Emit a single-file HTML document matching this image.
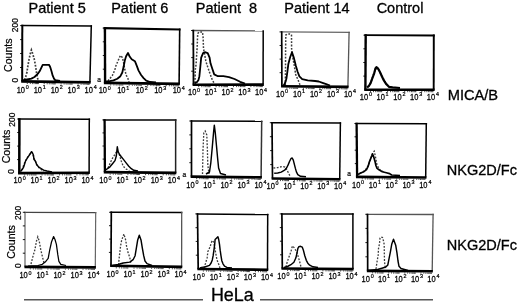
<!DOCTYPE html>
<html><head><meta charset="utf-8"><style>
html,body{margin:0;padding:0;background:#fff;width:520px;height:303px;overflow:hidden}
svg{display:block}
text{font-family:"Liberation Sans",Arial,sans-serif}
.b{stroke:#000;stroke-width:0.3px;paint-order:stroke}
.t{stroke:#000;stroke-width:0.22px}
.t2{fill:#000;stroke:#000;stroke-width:0.44px}
</style></head><body>
<svg width="520" height="303" viewBox="0 0 520 303">
<rect width="520" height="303" fill="#fff"/>
<text x="57.2" y="13.3" font-size="14.5" text-anchor="middle" fill="#000" class="b">Patient 5</text>
<text x="139.8" y="13.3" font-size="14.5" text-anchor="middle" fill="#000" class="b">Patient 6</text>
<text x="226.5" y="13.3" font-size="14.5" text-anchor="middle" fill="#000" class="b">Patient  8</text>
<text x="317.0" y="13.3" font-size="14.5" text-anchor="middle" fill="#000" class="b">Patient 14</text>
<text x="400.0" y="13.3" font-size="14.5" text-anchor="middle" fill="#000" class="b">Control</text>
<text x="447.7" y="99.9" font-size="14.65" fill="#000" class="b">MICA/B</text>
<text x="446.8" y="174.6" font-size="14.5" fill="#000" class="b">NKG2D/Fc</text>
<text x="446.8" y="249.5" font-size="14.5" fill="#000" class="b">NKG2D/Fc</text>
<text x="210.9" y="300.8" font-size="17.9" fill="#000" class="b">HeLa</text>
<line x1="24" y1="299.8" x2="203" y2="299.8" stroke="#555" stroke-width="1.6"/>
<line x1="260" y1="299.8" x2="433" y2="299.8" stroke="#555" stroke-width="1.6"/>
<polyline points="24.5,80.0 25.8,76.4 27.0,72.0 27.6,67.6 28.9,60.1 30.2,54.0 31.4,50.0 32.8,54.0 34.5,60.1 35.8,67.6 36.4,72.0 37.1,75.7 38.0,80.0" fill="none" stroke="#3a3a3a" stroke-width="1.7" stroke-dasharray="1.8 1.5"/>
<polyline points="22.6,80.5 27.0,79.5 31.4,78.6 34.5,77.0 37.7,73.9 39.6,71.3 40.8,68.8 42.7,64.8 49.0,64.8 50.2,67.0 51.5,71.3 52.7,75.7 54.0,78.6 55.2,80.1 60.0,81.0" fill="none" stroke="#000" stroke-width="1.8" stroke-linejoin="round"/>
<line x1="21.30" y1="25.6" x2="92.05" y2="26.1" stroke="#000" stroke-width="1.5"/>
<line x1="91.3" y1="25.35" x2="89.9" y2="82.4" stroke="#000" stroke-width="1.5"/>
<line x1="22.3" y1="24.85" x2="22.2" y2="81.4" stroke="#000" stroke-width="2.0"/>
<line x1="21.20" y1="81.4" x2="90.65" y2="82.4" stroke="#000" stroke-width="2.6"/>
<line x1="20.0" y1="67.5" x2="22.2" y2="67.5" stroke="#000" stroke-width="0.9"/>
<line x1="20.1" y1="53.5" x2="22.2" y2="53.5" stroke="#000" stroke-width="0.9"/>
<line x1="20.1" y1="39.6" x2="22.3" y2="39.6" stroke="#000" stroke-width="0.9"/>
<line x1="20.1" y1="25.6" x2="22.3" y2="25.6" stroke="#000" stroke-width="0.9"/>
<line x1="27.3" y1="82.8" x2="27.3" y2="84.0" stroke="#222" stroke-width="0.8"/>
<line x1="30.3" y1="82.8" x2="30.3" y2="84.0" stroke="#222" stroke-width="0.8"/>
<line x1="32.4" y1="82.9" x2="32.4" y2="84.1" stroke="#222" stroke-width="0.8"/>
<line x1="34.0" y1="82.9" x2="34.0" y2="84.1" stroke="#222" stroke-width="0.8"/>
<line x1="35.4" y1="82.9" x2="35.4" y2="84.1" stroke="#222" stroke-width="0.8"/>
<line x1="36.5" y1="82.9" x2="36.5" y2="84.1" stroke="#222" stroke-width="0.8"/>
<line x1="37.5" y1="82.9" x2="37.5" y2="84.1" stroke="#222" stroke-width="0.8"/>
<line x1="38.4" y1="82.9" x2="38.4" y2="84.1" stroke="#222" stroke-width="0.8"/>
<line x1="44.2" y1="83.0" x2="44.2" y2="84.2" stroke="#222" stroke-width="0.8"/>
<line x1="47.2" y1="83.1" x2="47.2" y2="84.3" stroke="#222" stroke-width="0.8"/>
<line x1="49.3" y1="83.1" x2="49.3" y2="84.3" stroke="#222" stroke-width="0.8"/>
<line x1="51.0" y1="83.1" x2="51.0" y2="84.3" stroke="#222" stroke-width="0.8"/>
<line x1="52.3" y1="83.1" x2="52.3" y2="84.3" stroke="#222" stroke-width="0.8"/>
<line x1="53.4" y1="83.2" x2="53.4" y2="84.4" stroke="#222" stroke-width="0.8"/>
<line x1="54.4" y1="83.2" x2="54.4" y2="84.4" stroke="#222" stroke-width="0.8"/>
<line x1="55.3" y1="83.2" x2="55.3" y2="84.4" stroke="#222" stroke-width="0.8"/>
<line x1="61.1" y1="83.3" x2="61.1" y2="84.5" stroke="#222" stroke-width="0.8"/>
<line x1="64.1" y1="83.3" x2="64.1" y2="84.5" stroke="#222" stroke-width="0.8"/>
<line x1="66.2" y1="83.4" x2="66.2" y2="84.6" stroke="#222" stroke-width="0.8"/>
<line x1="67.9" y1="83.4" x2="67.9" y2="84.6" stroke="#222" stroke-width="0.8"/>
<line x1="69.2" y1="83.4" x2="69.2" y2="84.6" stroke="#222" stroke-width="0.8"/>
<line x1="70.4" y1="83.4" x2="70.4" y2="84.6" stroke="#222" stroke-width="0.8"/>
<line x1="71.3" y1="83.4" x2="71.3" y2="84.6" stroke="#222" stroke-width="0.8"/>
<line x1="72.2" y1="83.4" x2="72.2" y2="84.6" stroke="#222" stroke-width="0.8"/>
<line x1="78.1" y1="83.5" x2="78.1" y2="84.7" stroke="#222" stroke-width="0.8"/>
<line x1="81.1" y1="83.6" x2="81.1" y2="84.8" stroke="#222" stroke-width="0.8"/>
<line x1="83.2" y1="83.6" x2="83.2" y2="84.8" stroke="#222" stroke-width="0.8"/>
<line x1="84.8" y1="83.6" x2="84.8" y2="84.8" stroke="#222" stroke-width="0.8"/>
<line x1="86.1" y1="83.6" x2="86.1" y2="84.8" stroke="#222" stroke-width="0.8"/>
<line x1="87.3" y1="83.7" x2="87.3" y2="84.9" stroke="#222" stroke-width="0.8"/>
<line x1="88.3" y1="83.7" x2="88.3" y2="84.9" stroke="#222" stroke-width="0.8"/>
<line x1="89.1" y1="83.7" x2="89.1" y2="84.9" stroke="#222" stroke-width="0.8"/>
<text transform="translate(16.7,92.6) scale(0.5,0.575)" font-size="15" class="t2">10</text>
<text transform="translate(25.8,88.7) scale(0.5,0.55)" font-size="10.8" class="t2">0</text>
<text transform="translate(33.7,92.6) scale(0.5,0.575)" font-size="15" class="t2">10</text>
<text transform="translate(42.8,88.7) scale(0.5,0.55)" font-size="10.8" class="t2">1</text>
<text transform="translate(50.7,92.6) scale(0.5,0.575)" font-size="15" class="t2">10</text>
<text transform="translate(59.8,88.7) scale(0.5,0.55)" font-size="10.8" class="t2">2</text>
<text transform="translate(67.6,92.6) scale(0.5,0.575)" font-size="15" class="t2">10</text>
<text transform="translate(76.7,88.7) scale(0.5,0.55)" font-size="10.8" class="t2">3</text>
<text transform="translate(84.6,92.6) scale(0.5,0.575)" font-size="15" class="t2">10</text>
<text transform="translate(93.7,88.7) scale(0.5,0.55)" font-size="10.8" class="t2">4</text>
<polyline points="108.0,81.0 109.8,78.7 112.3,75.6 114.8,70.0 116.0,65.6 117.9,61.2 120.4,55.5 122.3,57.4 123.5,62.0 124.5,68.0 126.1,75.0 128.0,78.7 129.0,82.0" fill="none" stroke="#3a3a3a" stroke-width="1.5" stroke-dasharray="1.8 1.5"/>
<polyline points="106.0,81.5 109.8,81.2 113.5,80.4 117.3,78.7 120.4,76.2 122.3,72.5 123.6,66.8 124.8,60.5 126.1,56.2 128.0,53.0 129.8,56.8 131.7,59.3 134.9,61.2 136.7,65.6 138.6,70.6 141.1,75.0 143.6,78.1 146.2,80.6 150.0,82.0 156.0,82.5" fill="none" stroke="#000" stroke-width="1.8" stroke-linejoin="round"/>
<line x1="103.70" y1="28.1" x2="180.50" y2="29.5" stroke="#000" stroke-width="2.2"/>
<line x1="179.7" y1="28.40" x2="179.1" y2="83.9" stroke="#000" stroke-width="1.6"/>
<line x1="104.9" y1="27.00" x2="105.1" y2="82.9" stroke="#000" stroke-width="2.4"/>
<line x1="103.90" y1="82.9" x2="179.90" y2="83.9" stroke="#000" stroke-width="2.6"/>
<line x1="102.8" y1="69.2" x2="105.0" y2="69.2" stroke="#000" stroke-width="0.9"/>
<line x1="102.8" y1="55.5" x2="105.0" y2="55.5" stroke="#000" stroke-width="0.9"/>
<line x1="102.8" y1="41.8" x2="105.0" y2="41.8" stroke="#000" stroke-width="0.9"/>
<line x1="102.7" y1="28.1" x2="104.9" y2="28.1" stroke="#000" stroke-width="0.9"/>
<line x1="110.7" y1="84.3" x2="110.7" y2="85.5" stroke="#222" stroke-width="0.8"/>
<line x1="113.9" y1="84.3" x2="113.9" y2="85.5" stroke="#222" stroke-width="0.8"/>
<line x1="116.2" y1="84.4" x2="116.2" y2="85.6" stroke="#222" stroke-width="0.8"/>
<line x1="118.0" y1="84.4" x2="118.0" y2="85.6" stroke="#222" stroke-width="0.8"/>
<line x1="119.5" y1="84.4" x2="119.5" y2="85.6" stroke="#222" stroke-width="0.8"/>
<line x1="120.7" y1="84.4" x2="120.7" y2="85.6" stroke="#222" stroke-width="0.8"/>
<line x1="121.8" y1="84.4" x2="121.8" y2="85.6" stroke="#222" stroke-width="0.8"/>
<line x1="122.8" y1="84.4" x2="122.8" y2="85.6" stroke="#222" stroke-width="0.8"/>
<line x1="129.2" y1="84.5" x2="129.2" y2="85.7" stroke="#222" stroke-width="0.8"/>
<line x1="132.4" y1="84.6" x2="132.4" y2="85.8" stroke="#222" stroke-width="0.8"/>
<line x1="134.7" y1="84.6" x2="134.7" y2="85.8" stroke="#222" stroke-width="0.8"/>
<line x1="136.5" y1="84.6" x2="136.5" y2="85.8" stroke="#222" stroke-width="0.8"/>
<line x1="138.0" y1="84.6" x2="138.0" y2="85.8" stroke="#222" stroke-width="0.8"/>
<line x1="139.2" y1="84.7" x2="139.2" y2="85.9" stroke="#222" stroke-width="0.8"/>
<line x1="140.3" y1="84.7" x2="140.3" y2="85.9" stroke="#222" stroke-width="0.8"/>
<line x1="141.3" y1="84.7" x2="141.3" y2="85.9" stroke="#222" stroke-width="0.8"/>
<line x1="147.7" y1="84.8" x2="147.7" y2="86.0" stroke="#222" stroke-width="0.8"/>
<line x1="150.9" y1="84.8" x2="150.9" y2="86.0" stroke="#222" stroke-width="0.8"/>
<line x1="153.2" y1="84.9" x2="153.2" y2="86.1" stroke="#222" stroke-width="0.8"/>
<line x1="155.0" y1="84.9" x2="155.0" y2="86.1" stroke="#222" stroke-width="0.8"/>
<line x1="156.5" y1="84.9" x2="156.5" y2="86.1" stroke="#222" stroke-width="0.8"/>
<line x1="157.7" y1="84.9" x2="157.7" y2="86.1" stroke="#222" stroke-width="0.8"/>
<line x1="158.8" y1="84.9" x2="158.8" y2="86.1" stroke="#222" stroke-width="0.8"/>
<line x1="159.8" y1="84.9" x2="159.8" y2="86.1" stroke="#222" stroke-width="0.8"/>
<line x1="166.2" y1="85.0" x2="166.2" y2="86.2" stroke="#222" stroke-width="0.8"/>
<line x1="169.4" y1="85.1" x2="169.4" y2="86.3" stroke="#222" stroke-width="0.8"/>
<line x1="171.7" y1="85.1" x2="171.7" y2="86.3" stroke="#222" stroke-width="0.8"/>
<line x1="173.5" y1="85.1" x2="173.5" y2="86.3" stroke="#222" stroke-width="0.8"/>
<line x1="175.0" y1="85.1" x2="175.0" y2="86.3" stroke="#222" stroke-width="0.8"/>
<line x1="176.2" y1="85.2" x2="176.2" y2="86.4" stroke="#222" stroke-width="0.8"/>
<line x1="177.3" y1="85.2" x2="177.3" y2="86.4" stroke="#222" stroke-width="0.8"/>
<line x1="178.3" y1="85.2" x2="178.3" y2="86.4" stroke="#222" stroke-width="0.8"/>
<text transform="translate(98.7,93.4) scale(0.5,0.575)" font-size="15" class="t2">10</text>
<text transform="translate(107.8,89.5) scale(0.5,0.55)" font-size="10.8" class="t2">0</text>
<text transform="translate(117.2,93.4) scale(0.5,0.575)" font-size="15" class="t2">10</text>
<text transform="translate(126.3,89.5) scale(0.5,0.55)" font-size="10.8" class="t2">1</text>
<text transform="translate(135.7,93.4) scale(0.5,0.575)" font-size="15" class="t2">10</text>
<text transform="translate(144.8,89.5) scale(0.5,0.55)" font-size="10.8" class="t2">2</text>
<text transform="translate(154.2,93.4) scale(0.5,0.575)" font-size="15" class="t2">10</text>
<text transform="translate(163.3,89.5) scale(0.5,0.55)" font-size="10.8" class="t2">3</text>
<text transform="translate(172.7,93.4) scale(0.5,0.575)" font-size="15" class="t2">10</text>
<text transform="translate(181.8,89.5) scale(0.5,0.55)" font-size="10.8" class="t2">4</text>
<polyline points="195.0,83.0 195.3,69.7 196.1,64.2 196.6,55.9 197.2,46.6 197.5,37.4 197.8,33.5 199.0,32.0 202.5,32.0 203.1,37.4 203.5,48.5 205.9,61.4 207.7,67.0 209.6,72.5 212.3,79.9 214.0,83.0" fill="none" stroke="#3a3a3a" stroke-width="1.5" stroke-dasharray="1.8 1.5"/>
<polyline points="194.5,83.5 197.0,82.0 198.5,79.9 199.4,76.2 200.3,67.0 201.2,57.7 203.1,53.1 204.9,52.2 207.7,53.1 209.6,57.7 210.5,63.3 212.3,68.8 214.2,74.4 217.9,76.2 223.4,76.2 229.0,77.1 234.5,79.0 240.1,81.8 245.0,83.5" fill="none" stroke="#000" stroke-width="1.8" stroke-linejoin="round"/>
<line x1="192.40" y1="30.5" x2="263.95" y2="30.9" stroke="#555" stroke-width="1.3"/>
<line x1="263.2" y1="30.25" x2="263.1" y2="84.6" stroke="#000" stroke-width="1.5"/>
<line x1="193.3" y1="29.85" x2="193.5" y2="84.7" stroke="#000" stroke-width="1.8"/>
<line x1="192.60" y1="84.7" x2="263.85" y2="84.6" stroke="#000" stroke-width="2.6"/>
<line x1="191.2" y1="71.2" x2="193.4" y2="71.2" stroke="#000" stroke-width="0.9"/>
<line x1="191.2" y1="57.6" x2="193.4" y2="57.6" stroke="#000" stroke-width="0.9"/>
<line x1="191.2" y1="44.0" x2="193.4" y2="44.0" stroke="#000" stroke-width="0.9"/>
<line x1="191.1" y1="30.5" x2="193.3" y2="30.5" stroke="#000" stroke-width="0.9"/>
<line x1="198.7" y1="86.0" x2="198.7" y2="87.2" stroke="#222" stroke-width="0.8"/>
<line x1="201.8" y1="86.0" x2="201.8" y2="87.2" stroke="#222" stroke-width="0.8"/>
<line x1="204.0" y1="86.0" x2="204.0" y2="87.2" stroke="#222" stroke-width="0.8"/>
<line x1="205.7" y1="86.0" x2="205.7" y2="87.2" stroke="#222" stroke-width="0.8"/>
<line x1="207.0" y1="86.0" x2="207.0" y2="87.2" stroke="#222" stroke-width="0.8"/>
<line x1="208.2" y1="86.0" x2="208.2" y2="87.2" stroke="#222" stroke-width="0.8"/>
<line x1="209.2" y1="86.0" x2="209.2" y2="87.2" stroke="#222" stroke-width="0.8"/>
<line x1="210.1" y1="86.0" x2="210.1" y2="87.2" stroke="#222" stroke-width="0.8"/>
<line x1="216.1" y1="86.0" x2="216.1" y2="87.2" stroke="#222" stroke-width="0.8"/>
<line x1="219.2" y1="86.0" x2="219.2" y2="87.2" stroke="#222" stroke-width="0.8"/>
<line x1="221.4" y1="86.0" x2="221.4" y2="87.2" stroke="#222" stroke-width="0.8"/>
<line x1="223.1" y1="86.0" x2="223.1" y2="87.2" stroke="#222" stroke-width="0.8"/>
<line x1="224.4" y1="86.0" x2="224.4" y2="87.2" stroke="#222" stroke-width="0.8"/>
<line x1="225.6" y1="86.0" x2="225.6" y2="87.2" stroke="#222" stroke-width="0.8"/>
<line x1="226.6" y1="86.0" x2="226.6" y2="87.2" stroke="#222" stroke-width="0.8"/>
<line x1="227.5" y1="86.0" x2="227.5" y2="87.2" stroke="#222" stroke-width="0.8"/>
<line x1="233.5" y1="85.9" x2="233.5" y2="87.1" stroke="#222" stroke-width="0.8"/>
<line x1="236.6" y1="85.9" x2="236.6" y2="87.1" stroke="#222" stroke-width="0.8"/>
<line x1="238.8" y1="85.9" x2="238.8" y2="87.1" stroke="#222" stroke-width="0.8"/>
<line x1="240.5" y1="85.9" x2="240.5" y2="87.1" stroke="#222" stroke-width="0.8"/>
<line x1="241.8" y1="85.9" x2="241.8" y2="87.1" stroke="#222" stroke-width="0.8"/>
<line x1="243.0" y1="85.9" x2="243.0" y2="87.1" stroke="#222" stroke-width="0.8"/>
<line x1="244.0" y1="85.9" x2="244.0" y2="87.1" stroke="#222" stroke-width="0.8"/>
<line x1="244.9" y1="85.9" x2="244.9" y2="87.1" stroke="#222" stroke-width="0.8"/>
<line x1="250.9" y1="85.9" x2="250.9" y2="87.1" stroke="#222" stroke-width="0.8"/>
<line x1="254.0" y1="85.9" x2="254.0" y2="87.1" stroke="#222" stroke-width="0.8"/>
<line x1="256.2" y1="85.9" x2="256.2" y2="87.1" stroke="#222" stroke-width="0.8"/>
<line x1="257.9" y1="85.9" x2="257.9" y2="87.1" stroke="#222" stroke-width="0.8"/>
<line x1="259.2" y1="85.9" x2="259.2" y2="87.1" stroke="#222" stroke-width="0.8"/>
<line x1="260.4" y1="85.9" x2="260.4" y2="87.1" stroke="#222" stroke-width="0.8"/>
<line x1="261.4" y1="85.9" x2="261.4" y2="87.1" stroke="#222" stroke-width="0.8"/>
<line x1="262.3" y1="85.9" x2="262.3" y2="87.1" stroke="#222" stroke-width="0.8"/>
<text transform="translate(188.0,95.4) scale(0.5,0.575)" font-size="15" class="t2">10</text>
<text transform="translate(197.1,91.5) scale(0.5,0.55)" font-size="10.8" class="t2">0</text>
<text transform="translate(204.8,95.4) scale(0.5,0.575)" font-size="15" class="t2">10</text>
<text transform="translate(213.8,91.5) scale(0.5,0.55)" font-size="10.8" class="t2">1</text>
<text transform="translate(221.5,95.4) scale(0.5,0.575)" font-size="15" class="t2">10</text>
<text transform="translate(230.6,91.5) scale(0.5,0.55)" font-size="10.8" class="t2">2</text>
<text transform="translate(238.3,95.4) scale(0.5,0.575)" font-size="15" class="t2">10</text>
<text transform="translate(247.4,91.5) scale(0.5,0.55)" font-size="10.8" class="t2">3</text>
<text transform="translate(255.0,95.4) scale(0.5,0.575)" font-size="15" class="t2">10</text>
<text transform="translate(264.1,91.5) scale(0.5,0.55)" font-size="10.8" class="t2">4</text>
<polyline points="285.3,85.0 285.5,69.0 285.6,50.0 285.8,35.0 287.5,34.0 290.5,34.0 291.5,35.0 291.6,48.6 292.5,56.0 293.9,63.4 295.7,74.5 298.5,81.0 300.0,85.0" fill="none" stroke="#3a3a3a" stroke-width="1.5" stroke-dasharray="1.8 1.5"/>
<polyline points="283.5,85.5 284.5,84.0 285.5,81.9 286.5,78.2 287.4,71.7 288.3,64.3 290.2,57.0 292.0,52.3 293.9,57.9 295.7,65.3 297.6,71.7 299.4,76.4 302.2,79.1 307.7,80.4 315.1,81.0 318.8,81.5 322.5,82.8 326.2,84.1 330.0,85.5" fill="none" stroke="#000" stroke-width="1.8" stroke-linejoin="round"/>
<line x1="280.85" y1="31.9" x2="349.75" y2="32.3" stroke="#666" stroke-width="1.2"/>
<line x1="349.1" y1="31.70" x2="347.9" y2="86.9" stroke="#555" stroke-width="1.3"/>
<line x1="281.7" y1="31.30" x2="281.9" y2="86.3" stroke="#000" stroke-width="1.7"/>
<line x1="281.05" y1="86.3" x2="348.55" y2="86.9" stroke="#000" stroke-width="2.6"/>
<line x1="279.6" y1="72.7" x2="281.8" y2="72.7" stroke="#000" stroke-width="0.9"/>
<line x1="279.6" y1="59.1" x2="281.8" y2="59.1" stroke="#000" stroke-width="0.9"/>
<line x1="279.6" y1="45.5" x2="281.8" y2="45.5" stroke="#000" stroke-width="0.9"/>
<line x1="279.5" y1="31.9" x2="281.7" y2="31.9" stroke="#000" stroke-width="0.9"/>
<line x1="286.9" y1="87.6" x2="286.9" y2="88.8" stroke="#222" stroke-width="0.8"/>
<line x1="289.8" y1="87.7" x2="289.8" y2="88.9" stroke="#222" stroke-width="0.8"/>
<line x1="291.8" y1="87.7" x2="291.8" y2="88.9" stroke="#222" stroke-width="0.8"/>
<line x1="293.4" y1="87.7" x2="293.4" y2="88.9" stroke="#222" stroke-width="0.8"/>
<line x1="294.7" y1="87.7" x2="294.7" y2="88.9" stroke="#222" stroke-width="0.8"/>
<line x1="295.8" y1="87.7" x2="295.8" y2="88.9" stroke="#222" stroke-width="0.8"/>
<line x1="296.8" y1="87.7" x2="296.8" y2="88.9" stroke="#222" stroke-width="0.8"/>
<line x1="297.6" y1="87.7" x2="297.6" y2="88.9" stroke="#222" stroke-width="0.8"/>
<line x1="303.4" y1="87.8" x2="303.4" y2="89.0" stroke="#222" stroke-width="0.8"/>
<line x1="306.3" y1="87.8" x2="306.3" y2="89.0" stroke="#222" stroke-width="0.8"/>
<line x1="308.3" y1="87.8" x2="308.3" y2="89.0" stroke="#222" stroke-width="0.8"/>
<line x1="309.9" y1="87.9" x2="309.9" y2="89.1" stroke="#222" stroke-width="0.8"/>
<line x1="311.2" y1="87.9" x2="311.2" y2="89.1" stroke="#222" stroke-width="0.8"/>
<line x1="312.3" y1="87.9" x2="312.3" y2="89.1" stroke="#222" stroke-width="0.8"/>
<line x1="313.3" y1="87.9" x2="313.3" y2="89.1" stroke="#222" stroke-width="0.8"/>
<line x1="314.1" y1="87.9" x2="314.1" y2="89.1" stroke="#222" stroke-width="0.8"/>
<line x1="319.9" y1="87.9" x2="319.9" y2="89.1" stroke="#222" stroke-width="0.8"/>
<line x1="322.8" y1="88.0" x2="322.8" y2="89.2" stroke="#222" stroke-width="0.8"/>
<line x1="324.8" y1="88.0" x2="324.8" y2="89.2" stroke="#222" stroke-width="0.8"/>
<line x1="326.4" y1="88.0" x2="326.4" y2="89.2" stroke="#222" stroke-width="0.8"/>
<line x1="327.7" y1="88.0" x2="327.7" y2="89.2" stroke="#222" stroke-width="0.8"/>
<line x1="328.8" y1="88.0" x2="328.8" y2="89.2" stroke="#222" stroke-width="0.8"/>
<line x1="329.8" y1="88.0" x2="329.8" y2="89.2" stroke="#222" stroke-width="0.8"/>
<line x1="330.6" y1="88.0" x2="330.6" y2="89.2" stroke="#222" stroke-width="0.8"/>
<line x1="336.4" y1="88.1" x2="336.4" y2="89.3" stroke="#222" stroke-width="0.8"/>
<line x1="339.3" y1="88.1" x2="339.3" y2="89.3" stroke="#222" stroke-width="0.8"/>
<line x1="341.3" y1="88.1" x2="341.3" y2="89.3" stroke="#222" stroke-width="0.8"/>
<line x1="342.9" y1="88.2" x2="342.9" y2="89.4" stroke="#222" stroke-width="0.8"/>
<line x1="344.2" y1="88.2" x2="344.2" y2="89.4" stroke="#222" stroke-width="0.8"/>
<line x1="345.3" y1="88.2" x2="345.3" y2="89.4" stroke="#222" stroke-width="0.8"/>
<line x1="346.3" y1="88.2" x2="346.3" y2="89.4" stroke="#222" stroke-width="0.8"/>
<line x1="347.1" y1="88.2" x2="347.1" y2="89.4" stroke="#222" stroke-width="0.8"/>
<text transform="translate(276.0,97.0) scale(0.5,0.575)" font-size="15" class="t2">10</text>
<text transform="translate(285.1,93.1) scale(0.5,0.55)" font-size="10.8" class="t2">0</text>
<text transform="translate(293.0,97.0) scale(0.5,0.575)" font-size="15" class="t2">10</text>
<text transform="translate(302.1,93.1) scale(0.5,0.55)" font-size="10.8" class="t2">1</text>
<text transform="translate(309.9,97.0) scale(0.5,0.575)" font-size="15" class="t2">10</text>
<text transform="translate(319.0,93.1) scale(0.5,0.55)" font-size="10.8" class="t2">2</text>
<text transform="translate(326.9,97.0) scale(0.5,0.575)" font-size="15" class="t2">10</text>
<text transform="translate(336.0,93.1) scale(0.5,0.55)" font-size="10.8" class="t2">3</text>
<text transform="translate(343.9,97.0) scale(0.5,0.575)" font-size="15" class="t2">10</text>
<text transform="translate(353.0,93.1) scale(0.5,0.55)" font-size="10.8" class="t2">4</text>
<polyline points="368.0,87.0 371.0,82.0 373.5,74.0 376.0,68.5 378.5,69.5 381.0,74.0 383.5,79.0 386.5,84.0 390.0,87.0" fill="none" stroke="#3a3a3a" stroke-width="1.5" stroke-dasharray="1.8 1.5"/>
<polyline points="367.0,87.5 368.7,86.2 370.6,83.1 372.4,78.2 374.2,73.3 375.4,68.4 376.4,67.2 377.9,68.4 379.7,71.5 381.6,75.8 384.0,80.7 386.4,84.3 388.9,86.8 392.6,87.4 400.0,88.0" fill="none" stroke="#000" stroke-width="2.2" stroke-linejoin="round"/>
<line x1="364.50" y1="35.2" x2="434.75" y2="35.5" stroke="#000" stroke-width="1.8"/>
<line x1="433.8" y1="34.60" x2="433.7" y2="89.7" stroke="#000" stroke-width="1.9"/>
<line x1="365.7" y1="34.30" x2="365.4" y2="89.7" stroke="#000" stroke-width="2.4"/>
<line x1="364.20" y1="89.7" x2="434.65" y2="89.7" stroke="#000" stroke-width="2.6"/>
<line x1="363.3" y1="76.1" x2="365.5" y2="76.1" stroke="#000" stroke-width="0.9"/>
<line x1="363.3" y1="62.5" x2="365.5" y2="62.5" stroke="#000" stroke-width="0.9"/>
<line x1="363.4" y1="48.8" x2="365.6" y2="48.8" stroke="#000" stroke-width="0.9"/>
<line x1="363.5" y1="35.2" x2="365.7" y2="35.2" stroke="#000" stroke-width="0.9"/>
<line x1="370.5" y1="91.0" x2="370.5" y2="92.2" stroke="#222" stroke-width="0.8"/>
<line x1="373.5" y1="91.0" x2="373.5" y2="92.2" stroke="#222" stroke-width="0.8"/>
<line x1="375.7" y1="91.0" x2="375.7" y2="92.2" stroke="#222" stroke-width="0.8"/>
<line x1="377.3" y1="91.0" x2="377.3" y2="92.2" stroke="#222" stroke-width="0.8"/>
<line x1="378.7" y1="91.0" x2="378.7" y2="92.2" stroke="#222" stroke-width="0.8"/>
<line x1="379.8" y1="91.0" x2="379.8" y2="92.2" stroke="#222" stroke-width="0.8"/>
<line x1="380.8" y1="91.0" x2="380.8" y2="92.2" stroke="#222" stroke-width="0.8"/>
<line x1="381.7" y1="91.0" x2="381.7" y2="92.2" stroke="#222" stroke-width="0.8"/>
<line x1="387.6" y1="91.0" x2="387.6" y2="92.2" stroke="#222" stroke-width="0.8"/>
<line x1="390.6" y1="91.0" x2="390.6" y2="92.2" stroke="#222" stroke-width="0.8"/>
<line x1="392.8" y1="91.0" x2="392.8" y2="92.2" stroke="#222" stroke-width="0.8"/>
<line x1="394.4" y1="91.0" x2="394.4" y2="92.2" stroke="#222" stroke-width="0.8"/>
<line x1="395.8" y1="91.0" x2="395.8" y2="92.2" stroke="#222" stroke-width="0.8"/>
<line x1="396.9" y1="91.0" x2="396.9" y2="92.2" stroke="#222" stroke-width="0.8"/>
<line x1="397.9" y1="91.0" x2="397.9" y2="92.2" stroke="#222" stroke-width="0.8"/>
<line x1="398.8" y1="91.0" x2="398.8" y2="92.2" stroke="#222" stroke-width="0.8"/>
<line x1="404.7" y1="91.0" x2="404.7" y2="92.2" stroke="#222" stroke-width="0.8"/>
<line x1="407.7" y1="91.0" x2="407.7" y2="92.2" stroke="#222" stroke-width="0.8"/>
<line x1="409.8" y1="91.0" x2="409.8" y2="92.2" stroke="#222" stroke-width="0.8"/>
<line x1="411.5" y1="91.0" x2="411.5" y2="92.2" stroke="#222" stroke-width="0.8"/>
<line x1="412.8" y1="91.0" x2="412.8" y2="92.2" stroke="#222" stroke-width="0.8"/>
<line x1="414.0" y1="91.0" x2="414.0" y2="92.2" stroke="#222" stroke-width="0.8"/>
<line x1="415.0" y1="91.0" x2="415.0" y2="92.2" stroke="#222" stroke-width="0.8"/>
<line x1="415.8" y1="91.0" x2="415.8" y2="92.2" stroke="#222" stroke-width="0.8"/>
<line x1="421.8" y1="91.0" x2="421.8" y2="92.2" stroke="#222" stroke-width="0.8"/>
<line x1="424.8" y1="91.0" x2="424.8" y2="92.2" stroke="#222" stroke-width="0.8"/>
<line x1="426.9" y1="91.0" x2="426.9" y2="92.2" stroke="#222" stroke-width="0.8"/>
<line x1="428.6" y1="91.0" x2="428.6" y2="92.2" stroke="#222" stroke-width="0.8"/>
<line x1="429.9" y1="91.0" x2="429.9" y2="92.2" stroke="#222" stroke-width="0.8"/>
<line x1="431.1" y1="91.0" x2="431.1" y2="92.2" stroke="#222" stroke-width="0.8"/>
<line x1="432.0" y1="91.0" x2="432.0" y2="92.2" stroke="#222" stroke-width="0.8"/>
<line x1="432.9" y1="91.0" x2="432.9" y2="92.2" stroke="#222" stroke-width="0.8"/>
<text transform="translate(359.8,100.2) scale(0.5,0.575)" font-size="15" class="t2">10</text>
<text transform="translate(368.9,96.3) scale(0.5,0.55)" font-size="10.8" class="t2">0</text>
<text transform="translate(376.5,100.2) scale(0.5,0.575)" font-size="15" class="t2">10</text>
<text transform="translate(385.6,96.3) scale(0.5,0.55)" font-size="10.8" class="t2">1</text>
<text transform="translate(393.3,100.2) scale(0.5,0.575)" font-size="15" class="t2">10</text>
<text transform="translate(402.4,96.3) scale(0.5,0.55)" font-size="10.8" class="t2">2</text>
<text transform="translate(410.1,100.2) scale(0.5,0.575)" font-size="15" class="t2">10</text>
<text transform="translate(419.2,96.3) scale(0.5,0.55)" font-size="10.8" class="t2">3</text>
<text transform="translate(426.8,100.2) scale(0.5,0.575)" font-size="15" class="t2">10</text>
<text transform="translate(435.9,96.3) scale(0.5,0.55)" font-size="10.8" class="t2">4</text>
<polyline points="22.0,170.0 24.0,164.0 27.0,158.0 30.0,154.0 32.0,152.5 34.0,158.0 36.5,164.0 40.0,169.0 44.0,171.0" fill="none" stroke="#3a3a3a" stroke-width="1.3" stroke-dasharray="1.8 1.5"/>
<polyline points="20.5,171.5 22.5,169.0 23.6,167.2 25.6,160.9 27.6,157.7 29.5,154.9 30.7,152.9 31.5,151.7 32.5,153.0 33.5,155.3 33.9,159.3 35.5,161.3 36.7,164.8 38.5,166.8 40.3,168.0 43.6,170.1 47.0,171.0 52.0,172.0" fill="none" stroke="#000" stroke-width="1.45" stroke-linejoin="round"/>
<line x1="18.15" y1="119.0" x2="90.05" y2="119.3" stroke="#000" stroke-width="1.5"/>
<line x1="89.3" y1="118.55" x2="89.1" y2="172.8" stroke="#000" stroke-width="1.5"/>
<line x1="19.4" y1="118.25" x2="19.3" y2="173.1" stroke="#000" stroke-width="2.5"/>
<line x1="18.05" y1="173.1" x2="89.85" y2="172.8" stroke="#000" stroke-width="2.6"/>
<line x1="17.1" y1="159.6" x2="19.3" y2="159.6" stroke="#000" stroke-width="0.9"/>
<line x1="17.2" y1="146.1" x2="19.4" y2="146.1" stroke="#000" stroke-width="0.9"/>
<line x1="17.2" y1="132.5" x2="19.4" y2="132.5" stroke="#000" stroke-width="0.9"/>
<line x1="17.2" y1="119.0" x2="19.4" y2="119.0" stroke="#000" stroke-width="0.9"/>
<line x1="24.6" y1="174.4" x2="24.6" y2="175.6" stroke="#222" stroke-width="0.8"/>
<line x1="27.6" y1="174.4" x2="27.6" y2="175.6" stroke="#222" stroke-width="0.8"/>
<line x1="29.8" y1="174.4" x2="29.8" y2="175.6" stroke="#222" stroke-width="0.8"/>
<line x1="31.5" y1="174.3" x2="31.5" y2="175.5" stroke="#222" stroke-width="0.8"/>
<line x1="32.9" y1="174.3" x2="32.9" y2="175.5" stroke="#222" stroke-width="0.8"/>
<line x1="34.0" y1="174.3" x2="34.0" y2="175.5" stroke="#222" stroke-width="0.8"/>
<line x1="35.1" y1="174.3" x2="35.1" y2="175.5" stroke="#222" stroke-width="0.8"/>
<line x1="36.0" y1="174.3" x2="36.0" y2="175.5" stroke="#222" stroke-width="0.8"/>
<line x1="42.0" y1="174.3" x2="42.0" y2="175.5" stroke="#222" stroke-width="0.8"/>
<line x1="45.1" y1="174.3" x2="45.1" y2="175.5" stroke="#222" stroke-width="0.8"/>
<line x1="47.3" y1="174.3" x2="47.3" y2="175.5" stroke="#222" stroke-width="0.8"/>
<line x1="48.9" y1="174.3" x2="48.9" y2="175.5" stroke="#222" stroke-width="0.8"/>
<line x1="50.3" y1="174.3" x2="50.3" y2="175.5" stroke="#222" stroke-width="0.8"/>
<line x1="51.5" y1="174.3" x2="51.5" y2="175.5" stroke="#222" stroke-width="0.8"/>
<line x1="52.5" y1="174.3" x2="52.5" y2="175.5" stroke="#222" stroke-width="0.8"/>
<line x1="53.4" y1="174.3" x2="53.4" y2="175.5" stroke="#222" stroke-width="0.8"/>
<line x1="59.5" y1="174.2" x2="59.5" y2="175.4" stroke="#222" stroke-width="0.8"/>
<line x1="62.5" y1="174.2" x2="62.5" y2="175.4" stroke="#222" stroke-width="0.8"/>
<line x1="64.7" y1="174.2" x2="64.7" y2="175.4" stroke="#222" stroke-width="0.8"/>
<line x1="66.4" y1="174.2" x2="66.4" y2="175.4" stroke="#222" stroke-width="0.8"/>
<line x1="67.8" y1="174.2" x2="67.8" y2="175.4" stroke="#222" stroke-width="0.8"/>
<line x1="68.9" y1="174.2" x2="68.9" y2="175.4" stroke="#222" stroke-width="0.8"/>
<line x1="70.0" y1="174.2" x2="70.0" y2="175.4" stroke="#222" stroke-width="0.8"/>
<line x1="70.9" y1="174.2" x2="70.9" y2="175.4" stroke="#222" stroke-width="0.8"/>
<line x1="76.9" y1="174.2" x2="76.9" y2="175.4" stroke="#222" stroke-width="0.8"/>
<line x1="80.0" y1="174.1" x2="80.0" y2="175.3" stroke="#222" stroke-width="0.8"/>
<line x1="82.2" y1="174.1" x2="82.2" y2="175.3" stroke="#222" stroke-width="0.8"/>
<line x1="83.8" y1="174.1" x2="83.8" y2="175.3" stroke="#222" stroke-width="0.8"/>
<line x1="85.2" y1="174.1" x2="85.2" y2="175.3" stroke="#222" stroke-width="0.8"/>
<line x1="86.4" y1="174.1" x2="86.4" y2="175.3" stroke="#222" stroke-width="0.8"/>
<line x1="87.4" y1="174.1" x2="87.4" y2="175.3" stroke="#222" stroke-width="0.8"/>
<line x1="88.3" y1="174.1" x2="88.3" y2="175.3" stroke="#222" stroke-width="0.8"/>
<text transform="translate(13.6,183.4) scale(0.5,0.575)" font-size="15" class="t2">10</text>
<text transform="translate(22.7,179.5) scale(0.5,0.55)" font-size="10.8" class="t2">0</text>
<text transform="translate(30.5,183.4) scale(0.5,0.575)" font-size="15" class="t2">10</text>
<text transform="translate(39.6,179.5) scale(0.5,0.55)" font-size="10.8" class="t2">1</text>
<text transform="translate(47.5,183.4) scale(0.5,0.575)" font-size="15" class="t2">10</text>
<text transform="translate(56.6,179.5) scale(0.5,0.55)" font-size="10.8" class="t2">2</text>
<text transform="translate(64.5,183.4) scale(0.5,0.575)" font-size="15" class="t2">10</text>
<text transform="translate(73.6,179.5) scale(0.5,0.55)" font-size="10.8" class="t2">3</text>
<text transform="translate(81.4,183.4) scale(0.5,0.575)" font-size="15" class="t2">10</text>
<text transform="translate(90.5,179.5) scale(0.5,0.55)" font-size="10.8" class="t2">4</text>
<polyline points="108.0,168.0 111.9,159.3 115.0,154.3 117.0,151.0 119.0,153.5 121.3,161.2 123.2,166.2 126.0,169.0 129.4,170.5" fill="none" stroke="#3a3a3a" stroke-width="1.3" stroke-dasharray="1.8 1.5"/>
<polyline points="105.5,170.0 107.5,168.7 110.0,166.8 112.5,163.7 115.0,160.6 116.3,156.0 117.3,146.8 118.2,151.8 119.4,154.3 121.3,156.8 123.8,159.9 126.3,163.1 128.8,166.2 131.3,168.7 133.8,170.3 138.0,171.0" fill="none" stroke="#000" stroke-width="1.45" stroke-linejoin="round"/>
<line x1="103.45" y1="119.9" x2="176.45" y2="119.9" stroke="#000" stroke-width="1.5"/>
<line x1="175.7" y1="119.15" x2="175.6" y2="172.9" stroke="#222" stroke-width="1.5"/>
<line x1="104.6" y1="119.15" x2="104.9" y2="172.1" stroke="#000" stroke-width="2.3"/>
<line x1="103.75" y1="172.1" x2="176.35" y2="172.9" stroke="#000" stroke-width="2.6"/>
<line x1="102.6" y1="159.1" x2="104.8" y2="159.1" stroke="#000" stroke-width="0.9"/>
<line x1="102.5" y1="146.0" x2="104.8" y2="146.0" stroke="#000" stroke-width="0.9"/>
<line x1="102.5" y1="132.9" x2="104.7" y2="132.9" stroke="#000" stroke-width="0.9"/>
<line x1="102.4" y1="119.9" x2="104.6" y2="119.9" stroke="#000" stroke-width="0.9"/>
<line x1="110.2" y1="173.5" x2="110.2" y2="174.7" stroke="#222" stroke-width="0.8"/>
<line x1="113.3" y1="173.5" x2="113.3" y2="174.7" stroke="#222" stroke-width="0.8"/>
<line x1="115.5" y1="173.5" x2="115.5" y2="174.7" stroke="#222" stroke-width="0.8"/>
<line x1="117.3" y1="173.5" x2="117.3" y2="174.7" stroke="#222" stroke-width="0.8"/>
<line x1="118.7" y1="173.6" x2="118.7" y2="174.8" stroke="#222" stroke-width="0.8"/>
<line x1="119.8" y1="173.6" x2="119.8" y2="174.8" stroke="#222" stroke-width="0.8"/>
<line x1="120.9" y1="173.6" x2="120.9" y2="174.8" stroke="#222" stroke-width="0.8"/>
<line x1="121.8" y1="173.6" x2="121.8" y2="174.8" stroke="#222" stroke-width="0.8"/>
<line x1="127.9" y1="173.7" x2="127.9" y2="174.9" stroke="#222" stroke-width="0.8"/>
<line x1="131.0" y1="173.7" x2="131.0" y2="174.9" stroke="#222" stroke-width="0.8"/>
<line x1="133.2" y1="173.7" x2="133.2" y2="174.9" stroke="#222" stroke-width="0.8"/>
<line x1="134.9" y1="173.7" x2="134.9" y2="174.9" stroke="#222" stroke-width="0.8"/>
<line x1="136.3" y1="173.8" x2="136.3" y2="175.0" stroke="#222" stroke-width="0.8"/>
<line x1="137.5" y1="173.8" x2="137.5" y2="175.0" stroke="#222" stroke-width="0.8"/>
<line x1="138.5" y1="173.8" x2="138.5" y2="175.0" stroke="#222" stroke-width="0.8"/>
<line x1="139.4" y1="173.8" x2="139.4" y2="175.0" stroke="#222" stroke-width="0.8"/>
<line x1="145.6" y1="173.9" x2="145.6" y2="175.1" stroke="#222" stroke-width="0.8"/>
<line x1="148.7" y1="173.9" x2="148.7" y2="175.1" stroke="#222" stroke-width="0.8"/>
<line x1="150.9" y1="173.9" x2="150.9" y2="175.1" stroke="#222" stroke-width="0.8"/>
<line x1="152.6" y1="173.9" x2="152.6" y2="175.1" stroke="#222" stroke-width="0.8"/>
<line x1="154.0" y1="174.0" x2="154.0" y2="175.2" stroke="#222" stroke-width="0.8"/>
<line x1="155.2" y1="174.0" x2="155.2" y2="175.2" stroke="#222" stroke-width="0.8"/>
<line x1="156.2" y1="174.0" x2="156.2" y2="175.2" stroke="#222" stroke-width="0.8"/>
<line x1="157.1" y1="174.0" x2="157.1" y2="175.2" stroke="#222" stroke-width="0.8"/>
<line x1="163.2" y1="174.1" x2="163.2" y2="175.3" stroke="#222" stroke-width="0.8"/>
<line x1="166.4" y1="174.1" x2="166.4" y2="175.3" stroke="#222" stroke-width="0.8"/>
<line x1="168.6" y1="174.1" x2="168.6" y2="175.3" stroke="#222" stroke-width="0.8"/>
<line x1="170.3" y1="174.1" x2="170.3" y2="175.3" stroke="#222" stroke-width="0.8"/>
<line x1="171.7" y1="174.2" x2="171.7" y2="175.4" stroke="#222" stroke-width="0.8"/>
<line x1="172.9" y1="174.2" x2="172.9" y2="175.4" stroke="#222" stroke-width="0.8"/>
<line x1="173.9" y1="174.2" x2="173.9" y2="175.4" stroke="#222" stroke-width="0.8"/>
<line x1="174.8" y1="174.2" x2="174.8" y2="175.4" stroke="#222" stroke-width="0.8"/>
<text transform="translate(99.3,183.4) scale(0.5,0.575)" font-size="15" class="t2">10</text>
<text transform="translate(108.4,179.5) scale(0.5,0.55)" font-size="10.8" class="t2">0</text>
<text transform="translate(116.4,183.4) scale(0.5,0.575)" font-size="15" class="t2">10</text>
<text transform="translate(125.5,179.5) scale(0.5,0.55)" font-size="10.8" class="t2">1</text>
<text transform="translate(133.5,183.4) scale(0.5,0.575)" font-size="15" class="t2">10</text>
<text transform="translate(142.6,179.5) scale(0.5,0.55)" font-size="10.8" class="t2">2</text>
<text transform="translate(150.7,183.4) scale(0.5,0.575)" font-size="15" class="t2">10</text>
<text transform="translate(159.8,179.5) scale(0.5,0.55)" font-size="10.8" class="t2">3</text>
<text transform="translate(167.8,183.4) scale(0.5,0.575)" font-size="15" class="t2">10</text>
<text transform="translate(176.9,179.5) scale(0.5,0.55)" font-size="10.8" class="t2">4</text>
<polyline points="202.5,174.0 203.0,150.0 203.8,133.0 205.2,131.0 206.8,135.0 207.4,150.0 207.8,165.0 209.0,174.0" fill="none" stroke="#3a3a3a" stroke-width="1.3" stroke-dasharray="1.8 1.5"/>
<polyline points="206.0,174.0 209.5,172.0 210.8,163.0 212.2,148.0 213.6,132.0 214.3,125.2 215.3,133.0 216.5,146.0 217.6,158.0 218.6,168.0 220.5,173.5 226.0,175.0" fill="none" stroke="#000" stroke-width="1.45" stroke-linejoin="round"/>
<line x1="190.65" y1="121.0" x2="262.45" y2="121.3" stroke="#000" stroke-width="1.5"/>
<line x1="261.7" y1="120.55" x2="261.1" y2="177.4" stroke="#333" stroke-width="1.5"/>
<line x1="191.5" y1="120.25" x2="191.5" y2="176.6" stroke="#000" stroke-width="1.7"/>
<line x1="190.65" y1="176.6" x2="261.85" y2="177.4" stroke="#000" stroke-width="2.6"/>
<line x1="189.3" y1="162.7" x2="191.5" y2="162.7" stroke="#000" stroke-width="0.9"/>
<line x1="189.3" y1="148.8" x2="191.5" y2="148.8" stroke="#000" stroke-width="0.9"/>
<line x1="189.3" y1="134.9" x2="191.5" y2="134.9" stroke="#000" stroke-width="0.9"/>
<line x1="189.3" y1="121.0" x2="191.5" y2="121.0" stroke="#000" stroke-width="0.9"/>
<line x1="196.7" y1="178.0" x2="196.7" y2="179.2" stroke="#222" stroke-width="0.8"/>
<line x1="199.8" y1="178.0" x2="199.8" y2="179.2" stroke="#222" stroke-width="0.8"/>
<line x1="202.0" y1="178.0" x2="202.0" y2="179.2" stroke="#222" stroke-width="0.8"/>
<line x1="203.7" y1="178.0" x2="203.7" y2="179.2" stroke="#222" stroke-width="0.8"/>
<line x1="205.0" y1="178.1" x2="205.0" y2="179.3" stroke="#222" stroke-width="0.8"/>
<line x1="206.2" y1="178.1" x2="206.2" y2="179.3" stroke="#222" stroke-width="0.8"/>
<line x1="207.2" y1="178.1" x2="207.2" y2="179.3" stroke="#222" stroke-width="0.8"/>
<line x1="208.1" y1="178.1" x2="208.1" y2="179.3" stroke="#222" stroke-width="0.8"/>
<line x1="214.1" y1="178.2" x2="214.1" y2="179.4" stroke="#222" stroke-width="0.8"/>
<line x1="217.2" y1="178.2" x2="217.2" y2="179.4" stroke="#222" stroke-width="0.8"/>
<line x1="219.4" y1="178.2" x2="219.4" y2="179.4" stroke="#222" stroke-width="0.8"/>
<line x1="221.1" y1="178.2" x2="221.1" y2="179.4" stroke="#222" stroke-width="0.8"/>
<line x1="222.4" y1="178.3" x2="222.4" y2="179.5" stroke="#222" stroke-width="0.8"/>
<line x1="223.6" y1="178.3" x2="223.6" y2="179.5" stroke="#222" stroke-width="0.8"/>
<line x1="224.6" y1="178.3" x2="224.6" y2="179.5" stroke="#222" stroke-width="0.8"/>
<line x1="225.5" y1="178.3" x2="225.5" y2="179.5" stroke="#222" stroke-width="0.8"/>
<line x1="231.5" y1="178.4" x2="231.5" y2="179.6" stroke="#222" stroke-width="0.8"/>
<line x1="234.6" y1="178.4" x2="234.6" y2="179.6" stroke="#222" stroke-width="0.8"/>
<line x1="236.8" y1="178.4" x2="236.8" y2="179.6" stroke="#222" stroke-width="0.8"/>
<line x1="238.5" y1="178.4" x2="238.5" y2="179.6" stroke="#222" stroke-width="0.8"/>
<line x1="239.8" y1="178.5" x2="239.8" y2="179.7" stroke="#222" stroke-width="0.8"/>
<line x1="241.0" y1="178.5" x2="241.0" y2="179.7" stroke="#222" stroke-width="0.8"/>
<line x1="242.0" y1="178.5" x2="242.0" y2="179.7" stroke="#222" stroke-width="0.8"/>
<line x1="242.9" y1="178.5" x2="242.9" y2="179.7" stroke="#222" stroke-width="0.8"/>
<line x1="248.9" y1="178.6" x2="248.9" y2="179.8" stroke="#222" stroke-width="0.8"/>
<line x1="252.0" y1="178.6" x2="252.0" y2="179.8" stroke="#222" stroke-width="0.8"/>
<line x1="254.2" y1="178.6" x2="254.2" y2="179.8" stroke="#222" stroke-width="0.8"/>
<line x1="255.9" y1="178.6" x2="255.9" y2="179.8" stroke="#222" stroke-width="0.8"/>
<line x1="257.2" y1="178.7" x2="257.2" y2="179.9" stroke="#222" stroke-width="0.8"/>
<line x1="258.4" y1="178.7" x2="258.4" y2="179.9" stroke="#222" stroke-width="0.8"/>
<line x1="259.4" y1="178.7" x2="259.4" y2="179.9" stroke="#222" stroke-width="0.8"/>
<line x1="260.3" y1="178.7" x2="260.3" y2="179.9" stroke="#222" stroke-width="0.8"/>
<text transform="translate(186.3,187.8) scale(0.5,0.575)" font-size="15" class="t2">10</text>
<text transform="translate(195.4,183.9) scale(0.5,0.55)" font-size="10.8" class="t2">0</text>
<text transform="translate(203.3,187.8) scale(0.5,0.575)" font-size="15" class="t2">10</text>
<text transform="translate(212.4,183.9) scale(0.5,0.55)" font-size="10.8" class="t2">1</text>
<text transform="translate(220.4,187.8) scale(0.5,0.575)" font-size="15" class="t2">10</text>
<text transform="translate(229.5,183.9) scale(0.5,0.55)" font-size="10.8" class="t2">2</text>
<text transform="translate(237.4,187.8) scale(0.5,0.575)" font-size="15" class="t2">10</text>
<text transform="translate(246.5,183.9) scale(0.5,0.55)" font-size="10.8" class="t2">3</text>
<text transform="translate(254.4,187.8) scale(0.5,0.575)" font-size="15" class="t2">10</text>
<text transform="translate(263.5,183.9) scale(0.5,0.55)" font-size="10.8" class="t2">4</text>
<polyline points="273.5,168.0 278.0,167.5 282.0,166.5 285.0,167.0 287.0,170.0 288.5,173.0 290.0,176.0" fill="none" stroke="#3a3a3a" stroke-width="1.3" stroke-dasharray="1.8 1.5"/>
<polyline points="274.2,173.2 277.7,173.0 281.2,172.1 284.6,170.2 286.7,167.7 288.1,164.9 289.5,161.5 290.9,158.7 292.2,158.0 293.3,160.1 294.3,164.2 295.4,168.4 296.4,171.9 297.8,174.6 300.5,176.3 306.0,176.8" fill="none" stroke="#000" stroke-width="1.45" stroke-linejoin="round"/>
<line x1="271.15" y1="122.7" x2="341.15" y2="123.0" stroke="#000" stroke-width="1.5"/>
<line x1="340.4" y1="122.25" x2="339.7" y2="179.3" stroke="#000" stroke-width="1.5"/>
<line x1="272.0" y1="121.95" x2="272.5" y2="178.5" stroke="#000" stroke-width="1.7"/>
<line x1="271.65" y1="178.5" x2="340.45" y2="179.3" stroke="#000" stroke-width="2.6"/>
<line x1="270.2" y1="164.6" x2="272.4" y2="164.6" stroke="#000" stroke-width="0.9"/>
<line x1="270.1" y1="150.6" x2="272.2" y2="150.6" stroke="#000" stroke-width="0.9"/>
<line x1="269.9" y1="136.7" x2="272.1" y2="136.7" stroke="#000" stroke-width="0.9"/>
<line x1="269.8" y1="122.7" x2="272.0" y2="122.7" stroke="#000" stroke-width="0.9"/>
<line x1="277.6" y1="179.9" x2="277.6" y2="181.1" stroke="#222" stroke-width="0.8"/>
<line x1="280.5" y1="179.9" x2="280.5" y2="181.1" stroke="#222" stroke-width="0.8"/>
<line x1="282.6" y1="179.9" x2="282.6" y2="181.1" stroke="#222" stroke-width="0.8"/>
<line x1="284.2" y1="179.9" x2="284.2" y2="181.1" stroke="#222" stroke-width="0.8"/>
<line x1="285.6" y1="180.0" x2="285.6" y2="181.2" stroke="#222" stroke-width="0.8"/>
<line x1="286.7" y1="180.0" x2="286.7" y2="181.2" stroke="#222" stroke-width="0.8"/>
<line x1="287.7" y1="180.0" x2="287.7" y2="181.2" stroke="#222" stroke-width="0.8"/>
<line x1="288.5" y1="180.0" x2="288.5" y2="181.2" stroke="#222" stroke-width="0.8"/>
<line x1="294.4" y1="180.1" x2="294.4" y2="181.3" stroke="#222" stroke-width="0.8"/>
<line x1="297.3" y1="180.1" x2="297.3" y2="181.3" stroke="#222" stroke-width="0.8"/>
<line x1="299.4" y1="180.1" x2="299.4" y2="181.3" stroke="#222" stroke-width="0.8"/>
<line x1="301.0" y1="180.1" x2="301.0" y2="181.3" stroke="#222" stroke-width="0.8"/>
<line x1="302.4" y1="180.2" x2="302.4" y2="181.4" stroke="#222" stroke-width="0.8"/>
<line x1="303.5" y1="180.2" x2="303.5" y2="181.4" stroke="#222" stroke-width="0.8"/>
<line x1="304.5" y1="180.2" x2="304.5" y2="181.4" stroke="#222" stroke-width="0.8"/>
<line x1="305.3" y1="180.2" x2="305.3" y2="181.4" stroke="#222" stroke-width="0.8"/>
<line x1="311.2" y1="180.3" x2="311.2" y2="181.5" stroke="#222" stroke-width="0.8"/>
<line x1="314.1" y1="180.3" x2="314.1" y2="181.5" stroke="#222" stroke-width="0.8"/>
<line x1="316.2" y1="180.3" x2="316.2" y2="181.5" stroke="#222" stroke-width="0.8"/>
<line x1="317.8" y1="180.3" x2="317.8" y2="181.5" stroke="#222" stroke-width="0.8"/>
<line x1="319.2" y1="180.4" x2="319.2" y2="181.6" stroke="#222" stroke-width="0.8"/>
<line x1="320.3" y1="180.4" x2="320.3" y2="181.6" stroke="#222" stroke-width="0.8"/>
<line x1="321.3" y1="180.4" x2="321.3" y2="181.6" stroke="#222" stroke-width="0.8"/>
<line x1="322.1" y1="180.4" x2="322.1" y2="181.6" stroke="#222" stroke-width="0.8"/>
<line x1="328.0" y1="180.5" x2="328.0" y2="181.7" stroke="#222" stroke-width="0.8"/>
<line x1="330.9" y1="180.5" x2="330.9" y2="181.7" stroke="#222" stroke-width="0.8"/>
<line x1="333.0" y1="180.5" x2="333.0" y2="181.7" stroke="#222" stroke-width="0.8"/>
<line x1="334.6" y1="180.5" x2="334.6" y2="181.7" stroke="#222" stroke-width="0.8"/>
<line x1="336.0" y1="180.6" x2="336.0" y2="181.8" stroke="#222" stroke-width="0.8"/>
<line x1="337.1" y1="180.6" x2="337.1" y2="181.8" stroke="#222" stroke-width="0.8"/>
<line x1="338.1" y1="180.6" x2="338.1" y2="181.8" stroke="#222" stroke-width="0.8"/>
<line x1="338.9" y1="180.6" x2="338.9" y2="181.8" stroke="#222" stroke-width="0.8"/>
<text transform="translate(266.5,188.8) scale(0.5,0.575)" font-size="15" class="t2">10</text>
<text transform="translate(275.6,184.9) scale(0.5,0.55)" font-size="10.8" class="t2">0</text>
<text transform="translate(283.4,188.8) scale(0.5,0.575)" font-size="15" class="t2">10</text>
<text transform="translate(292.5,184.9) scale(0.5,0.55)" font-size="10.8" class="t2">1</text>
<text transform="translate(300.3,188.8) scale(0.5,0.575)" font-size="15" class="t2">10</text>
<text transform="translate(309.4,184.9) scale(0.5,0.55)" font-size="10.8" class="t2">2</text>
<text transform="translate(317.2,188.8) scale(0.5,0.575)" font-size="15" class="t2">10</text>
<text transform="translate(326.3,184.9) scale(0.5,0.55)" font-size="10.8" class="t2">3</text>
<text transform="translate(334.1,188.8) scale(0.5,0.575)" font-size="15" class="t2">10</text>
<text transform="translate(343.2,184.9) scale(0.5,0.55)" font-size="10.8" class="t2">4</text>
<polyline points="360.0,173.5 365.0,170.5 368.5,165.0 371.0,158.0 372.8,153.0 374.2,151.2 375.5,157.0 377.0,165.0 380.0,170.0 385.0,172.5" fill="none" stroke="#3a3a3a" stroke-width="1.3" stroke-dasharray="1.8 1.5"/>
<polyline points="358.0,174.5 360.6,173.0 363.9,171.7 366.5,169.7 368.1,166.4 369.2,162.4 370.5,159.1 371.8,155.8 372.4,153.9 373.8,157.2 375.1,161.8 376.0,165.7 377.1,168.4 379.0,169.7 382.3,171.7 386.3,172.7 389.6,173.6 391.6,175.0 400.0,175.5" fill="none" stroke="#000" stroke-width="1.7" stroke-linejoin="round"/>
<line x1="355.45" y1="123.5" x2="427.05" y2="123.7" stroke="#000" stroke-width="1.5"/>
<line x1="426.3" y1="122.95" x2="425.7" y2="177.5" stroke="#000" stroke-width="1.5"/>
<line x1="356.6" y1="122.75" x2="357.1" y2="176.9" stroke="#000" stroke-width="2.3"/>
<line x1="355.95" y1="176.9" x2="426.45" y2="177.5" stroke="#000" stroke-width="2.6"/>
<line x1="354.8" y1="163.6" x2="357.0" y2="163.6" stroke="#000" stroke-width="0.9"/>
<line x1="354.7" y1="150.2" x2="356.9" y2="150.2" stroke="#000" stroke-width="0.9"/>
<line x1="354.5" y1="136.8" x2="356.7" y2="136.8" stroke="#000" stroke-width="0.9"/>
<line x1="354.4" y1="123.5" x2="356.6" y2="123.5" stroke="#000" stroke-width="0.9"/>
<line x1="362.3" y1="178.2" x2="362.3" y2="179.4" stroke="#222" stroke-width="0.8"/>
<line x1="365.3" y1="178.3" x2="365.3" y2="179.5" stroke="#222" stroke-width="0.8"/>
<line x1="367.4" y1="178.3" x2="367.4" y2="179.5" stroke="#222" stroke-width="0.8"/>
<line x1="369.1" y1="178.3" x2="369.1" y2="179.5" stroke="#222" stroke-width="0.8"/>
<line x1="370.4" y1="178.3" x2="370.4" y2="179.5" stroke="#222" stroke-width="0.8"/>
<line x1="371.6" y1="178.3" x2="371.6" y2="179.5" stroke="#222" stroke-width="0.8"/>
<line x1="372.6" y1="178.3" x2="372.6" y2="179.5" stroke="#222" stroke-width="0.8"/>
<line x1="373.5" y1="178.3" x2="373.5" y2="179.5" stroke="#222" stroke-width="0.8"/>
<line x1="379.4" y1="178.4" x2="379.4" y2="179.6" stroke="#222" stroke-width="0.8"/>
<line x1="382.4" y1="178.4" x2="382.4" y2="179.6" stroke="#222" stroke-width="0.8"/>
<line x1="384.6" y1="178.4" x2="384.6" y2="179.6" stroke="#222" stroke-width="0.8"/>
<line x1="386.2" y1="178.5" x2="386.2" y2="179.7" stroke="#222" stroke-width="0.8"/>
<line x1="387.6" y1="178.5" x2="387.6" y2="179.7" stroke="#222" stroke-width="0.8"/>
<line x1="388.7" y1="178.5" x2="388.7" y2="179.7" stroke="#222" stroke-width="0.8"/>
<line x1="389.7" y1="178.5" x2="389.7" y2="179.7" stroke="#222" stroke-width="0.8"/>
<line x1="390.6" y1="178.5" x2="390.6" y2="179.7" stroke="#222" stroke-width="0.8"/>
<line x1="396.6" y1="178.5" x2="396.6" y2="179.7" stroke="#222" stroke-width="0.8"/>
<line x1="399.6" y1="178.6" x2="399.6" y2="179.8" stroke="#222" stroke-width="0.8"/>
<line x1="401.7" y1="178.6" x2="401.7" y2="179.8" stroke="#222" stroke-width="0.8"/>
<line x1="403.4" y1="178.6" x2="403.4" y2="179.8" stroke="#222" stroke-width="0.8"/>
<line x1="404.7" y1="178.6" x2="404.7" y2="179.8" stroke="#222" stroke-width="0.8"/>
<line x1="405.9" y1="178.6" x2="405.9" y2="179.8" stroke="#222" stroke-width="0.8"/>
<line x1="406.9" y1="178.6" x2="406.9" y2="179.8" stroke="#222" stroke-width="0.8"/>
<line x1="407.8" y1="178.6" x2="407.8" y2="179.8" stroke="#222" stroke-width="0.8"/>
<line x1="413.7" y1="178.7" x2="413.7" y2="179.9" stroke="#222" stroke-width="0.8"/>
<line x1="416.7" y1="178.7" x2="416.7" y2="179.9" stroke="#222" stroke-width="0.8"/>
<line x1="418.9" y1="178.7" x2="418.9" y2="179.9" stroke="#222" stroke-width="0.8"/>
<line x1="420.5" y1="178.8" x2="420.5" y2="180.0" stroke="#222" stroke-width="0.8"/>
<line x1="421.9" y1="178.8" x2="421.9" y2="180.0" stroke="#222" stroke-width="0.8"/>
<line x1="423.0" y1="178.8" x2="423.0" y2="180.0" stroke="#222" stroke-width="0.8"/>
<line x1="424.0" y1="178.8" x2="424.0" y2="180.0" stroke="#222" stroke-width="0.8"/>
<line x1="424.9" y1="178.8" x2="424.9" y2="180.0" stroke="#222" stroke-width="0.8"/>
<text transform="translate(352.0,187.6) scale(0.5,0.575)" font-size="15" class="t2">10</text>
<text transform="translate(361.1,183.7) scale(0.5,0.55)" font-size="10.8" class="t2">0</text>
<text transform="translate(368.8,187.6) scale(0.5,0.575)" font-size="15" class="t2">10</text>
<text transform="translate(377.9,183.7) scale(0.5,0.55)" font-size="10.8" class="t2">1</text>
<text transform="translate(385.6,187.6) scale(0.5,0.575)" font-size="15" class="t2">10</text>
<text transform="translate(394.7,183.7) scale(0.5,0.55)" font-size="10.8" class="t2">2</text>
<text transform="translate(402.4,187.6) scale(0.5,0.575)" font-size="15" class="t2">10</text>
<text transform="translate(411.5,183.7) scale(0.5,0.55)" font-size="10.8" class="t2">3</text>
<text transform="translate(419.2,187.6) scale(0.5,0.575)" font-size="15" class="t2">10</text>
<text transform="translate(428.4,183.7) scale(0.5,0.55)" font-size="10.8" class="t2">4</text>
<polyline points="31.0,264.0 32.5,258.0 34.8,250.0 36.5,241.0 37.8,236.9 39.2,241.0 40.8,250.0 42.3,256.2 44.0,263.0" fill="none" stroke="#3a3a3a" stroke-width="1.3" stroke-dasharray="1.8 1.5"/>
<polyline points="28.0,266.0 38.0,265.5 42.3,264.3 45.2,262.1 48.2,258.4 49.7,250.2 51.5,242.0 53.6,236.6 55.0,239.5 56.4,244.3 57.8,254.7 58.9,261.4 60.8,264.3 66.0,265.5" fill="none" stroke="#000" stroke-width="1.25" stroke-linejoin="round"/>
<line x1="24.45" y1="212.3" x2="96.30" y2="212.7" stroke="#444" stroke-width="1.2"/>
<line x1="95.7" y1="212.10" x2="95.3" y2="267.4" stroke="#666" stroke-width="1.2"/>
<line x1="25.0" y1="211.70" x2="25.0" y2="266.9" stroke="#555" stroke-width="1.1"/>
<line x1="24.45" y1="266.9" x2="95.90" y2="267.4" stroke="#000" stroke-width="2.6"/>
<line x1="22.8" y1="253.2" x2="25.0" y2="253.2" stroke="#000" stroke-width="0.9"/>
<line x1="22.8" y1="239.6" x2="25.0" y2="239.6" stroke="#000" stroke-width="0.9"/>
<line x1="22.8" y1="225.9" x2="25.0" y2="225.9" stroke="#000" stroke-width="0.9"/>
<line x1="22.8" y1="212.3" x2="25.0" y2="212.3" stroke="#000" stroke-width="0.9"/>
<line x1="30.3" y1="268.2" x2="30.3" y2="269.4" stroke="#222" stroke-width="0.8"/>
<line x1="33.4" y1="268.3" x2="33.4" y2="269.5" stroke="#222" stroke-width="0.8"/>
<line x1="35.6" y1="268.3" x2="35.6" y2="269.5" stroke="#222" stroke-width="0.8"/>
<line x1="37.3" y1="268.3" x2="37.3" y2="269.5" stroke="#222" stroke-width="0.8"/>
<line x1="38.7" y1="268.3" x2="38.7" y2="269.5" stroke="#222" stroke-width="0.8"/>
<line x1="39.9" y1="268.3" x2="39.9" y2="269.5" stroke="#222" stroke-width="0.8"/>
<line x1="40.9" y1="268.3" x2="40.9" y2="269.5" stroke="#222" stroke-width="0.8"/>
<line x1="41.8" y1="268.3" x2="41.8" y2="269.5" stroke="#222" stroke-width="0.8"/>
<line x1="47.9" y1="268.4" x2="47.9" y2="269.6" stroke="#222" stroke-width="0.8"/>
<line x1="51.0" y1="268.4" x2="51.0" y2="269.6" stroke="#222" stroke-width="0.8"/>
<line x1="53.2" y1="268.4" x2="53.2" y2="269.6" stroke="#222" stroke-width="0.8"/>
<line x1="54.9" y1="268.4" x2="54.9" y2="269.6" stroke="#222" stroke-width="0.8"/>
<line x1="56.3" y1="268.4" x2="56.3" y2="269.6" stroke="#222" stroke-width="0.8"/>
<line x1="57.4" y1="268.4" x2="57.4" y2="269.6" stroke="#222" stroke-width="0.8"/>
<line x1="58.4" y1="268.4" x2="58.4" y2="269.6" stroke="#222" stroke-width="0.8"/>
<line x1="59.3" y1="268.4" x2="59.3" y2="269.6" stroke="#222" stroke-width="0.8"/>
<line x1="65.4" y1="268.5" x2="65.4" y2="269.7" stroke="#222" stroke-width="0.8"/>
<line x1="68.5" y1="268.5" x2="68.5" y2="269.7" stroke="#222" stroke-width="0.8"/>
<line x1="70.7" y1="268.5" x2="70.7" y2="269.7" stroke="#222" stroke-width="0.8"/>
<line x1="72.4" y1="268.5" x2="72.4" y2="269.7" stroke="#222" stroke-width="0.8"/>
<line x1="73.8" y1="268.5" x2="73.8" y2="269.7" stroke="#222" stroke-width="0.8"/>
<line x1="75.0" y1="268.6" x2="75.0" y2="269.8" stroke="#222" stroke-width="0.8"/>
<line x1="76.0" y1="268.6" x2="76.0" y2="269.8" stroke="#222" stroke-width="0.8"/>
<line x1="76.9" y1="268.6" x2="76.9" y2="269.8" stroke="#222" stroke-width="0.8"/>
<line x1="83.0" y1="268.6" x2="83.0" y2="269.8" stroke="#222" stroke-width="0.8"/>
<line x1="86.1" y1="268.6" x2="86.1" y2="269.8" stroke="#222" stroke-width="0.8"/>
<line x1="88.3" y1="268.7" x2="88.3" y2="269.9" stroke="#222" stroke-width="0.8"/>
<line x1="90.0" y1="268.7" x2="90.0" y2="269.9" stroke="#222" stroke-width="0.8"/>
<line x1="91.4" y1="268.7" x2="91.4" y2="269.9" stroke="#222" stroke-width="0.8"/>
<line x1="92.6" y1="268.7" x2="92.6" y2="269.9" stroke="#222" stroke-width="0.8"/>
<line x1="93.6" y1="268.7" x2="93.6" y2="269.9" stroke="#222" stroke-width="0.8"/>
<line x1="94.5" y1="268.7" x2="94.5" y2="269.9" stroke="#222" stroke-width="0.8"/>
<text transform="translate(19.4,278.4) scale(0.5,0.575)" font-size="15" class="t2">10</text>
<text transform="translate(28.5,274.5) scale(0.5,0.55)" font-size="10.8" class="t2">0</text>
<text transform="translate(36.4,278.4) scale(0.5,0.575)" font-size="15" class="t2">10</text>
<text transform="translate(45.5,274.5) scale(0.5,0.55)" font-size="10.8" class="t2">1</text>
<text transform="translate(53.4,278.4) scale(0.5,0.575)" font-size="15" class="t2">10</text>
<text transform="translate(62.5,274.5) scale(0.5,0.55)" font-size="10.8" class="t2">2</text>
<text transform="translate(70.5,278.4) scale(0.5,0.575)" font-size="15" class="t2">10</text>
<text transform="translate(79.6,274.5) scale(0.5,0.55)" font-size="10.8" class="t2">3</text>
<text transform="translate(87.5,278.4) scale(0.5,0.575)" font-size="15" class="t2">10</text>
<text transform="translate(96.6,274.5) scale(0.5,0.55)" font-size="10.8" class="t2">4</text>
<polyline points="118.5,265.0 119.2,257.7 119.9,251.8 120.6,245.8 121.6,240.5 123.9,234.0 125.8,240.5 126.5,245.8 127.8,251.8 129.8,257.7 131.0,264.0" fill="none" stroke="#3a3a3a" stroke-width="1.3" stroke-dasharray="1.8 1.5"/>
<polyline points="113.0,265.5 118.0,264.5 123.2,263.0 129.8,262.1 133.1,259.7 135.1,255.7 136.4,247.8 137.7,239.9 139.3,235.3 141.0,239.9 142.3,247.8 143.7,255.7 145.0,261.0 147.0,263.6 152.0,265.5" fill="none" stroke="#000" stroke-width="1.45" stroke-linejoin="round"/>
<line x1="110.45" y1="212.3" x2="182.35" y2="212.5" stroke="#000" stroke-width="1.5"/>
<line x1="181.7" y1="211.75" x2="181.6" y2="266.9" stroke="#555" stroke-width="1.3"/>
<line x1="111.3" y1="211.55" x2="111.0" y2="265.8" stroke="#000" stroke-width="1.7"/>
<line x1="110.15" y1="265.8" x2="182.25" y2="266.9" stroke="#000" stroke-width="2.6"/>
<line x1="108.9" y1="252.4" x2="111.1" y2="252.4" stroke="#000" stroke-width="0.9"/>
<line x1="109.0" y1="239.1" x2="111.2" y2="239.1" stroke="#000" stroke-width="0.9"/>
<line x1="109.0" y1="225.7" x2="111.2" y2="225.7" stroke="#000" stroke-width="0.9"/>
<line x1="109.1" y1="212.3" x2="111.3" y2="212.3" stroke="#000" stroke-width="0.9"/>
<line x1="116.3" y1="267.2" x2="116.3" y2="268.4" stroke="#222" stroke-width="0.8"/>
<line x1="119.4" y1="267.2" x2="119.4" y2="268.4" stroke="#222" stroke-width="0.8"/>
<line x1="121.6" y1="267.3" x2="121.6" y2="268.5" stroke="#222" stroke-width="0.8"/>
<line x1="123.3" y1="267.3" x2="123.3" y2="268.5" stroke="#222" stroke-width="0.8"/>
<line x1="124.7" y1="267.3" x2="124.7" y2="268.5" stroke="#222" stroke-width="0.8"/>
<line x1="125.9" y1="267.3" x2="125.9" y2="268.5" stroke="#222" stroke-width="0.8"/>
<line x1="126.9" y1="267.3" x2="126.9" y2="268.5" stroke="#222" stroke-width="0.8"/>
<line x1="127.8" y1="267.4" x2="127.8" y2="268.6" stroke="#222" stroke-width="0.8"/>
<line x1="134.0" y1="267.5" x2="134.0" y2="268.7" stroke="#222" stroke-width="0.8"/>
<line x1="137.1" y1="267.5" x2="137.1" y2="268.7" stroke="#222" stroke-width="0.8"/>
<line x1="139.3" y1="267.5" x2="139.3" y2="268.7" stroke="#222" stroke-width="0.8"/>
<line x1="141.0" y1="267.6" x2="141.0" y2="268.8" stroke="#222" stroke-width="0.8"/>
<line x1="142.4" y1="267.6" x2="142.4" y2="268.8" stroke="#222" stroke-width="0.8"/>
<line x1="143.6" y1="267.6" x2="143.6" y2="268.8" stroke="#222" stroke-width="0.8"/>
<line x1="144.6" y1="267.6" x2="144.6" y2="268.8" stroke="#222" stroke-width="0.8"/>
<line x1="145.5" y1="267.6" x2="145.5" y2="268.8" stroke="#222" stroke-width="0.8"/>
<line x1="151.6" y1="267.7" x2="151.6" y2="268.9" stroke="#222" stroke-width="0.8"/>
<line x1="154.7" y1="267.8" x2="154.7" y2="269.0" stroke="#222" stroke-width="0.8"/>
<line x1="156.9" y1="267.8" x2="156.9" y2="269.0" stroke="#222" stroke-width="0.8"/>
<line x1="158.6" y1="267.8" x2="158.6" y2="269.0" stroke="#222" stroke-width="0.8"/>
<line x1="160.0" y1="267.9" x2="160.0" y2="269.1" stroke="#222" stroke-width="0.8"/>
<line x1="161.2" y1="267.9" x2="161.2" y2="269.1" stroke="#222" stroke-width="0.8"/>
<line x1="162.2" y1="267.9" x2="162.2" y2="269.1" stroke="#222" stroke-width="0.8"/>
<line x1="163.1" y1="267.9" x2="163.1" y2="269.1" stroke="#222" stroke-width="0.8"/>
<line x1="169.3" y1="268.0" x2="169.3" y2="269.2" stroke="#222" stroke-width="0.8"/>
<line x1="172.4" y1="268.1" x2="172.4" y2="269.3" stroke="#222" stroke-width="0.8"/>
<line x1="174.6" y1="268.1" x2="174.6" y2="269.3" stroke="#222" stroke-width="0.8"/>
<line x1="176.3" y1="268.1" x2="176.3" y2="269.3" stroke="#222" stroke-width="0.8"/>
<line x1="177.7" y1="268.1" x2="177.7" y2="269.3" stroke="#222" stroke-width="0.8"/>
<line x1="178.9" y1="268.2" x2="178.9" y2="269.4" stroke="#222" stroke-width="0.8"/>
<line x1="179.9" y1="268.2" x2="179.9" y2="269.4" stroke="#222" stroke-width="0.8"/>
<line x1="180.8" y1="268.2" x2="180.8" y2="269.4" stroke="#222" stroke-width="0.8"/>
<text transform="translate(106.5,277.4) scale(0.5,0.575)" font-size="15" class="t2">10</text>
<text transform="translate(115.6,273.5) scale(0.5,0.55)" font-size="10.8" class="t2">0</text>
<text transform="translate(123.5,277.4) scale(0.5,0.575)" font-size="15" class="t2">10</text>
<text transform="translate(132.6,273.5) scale(0.5,0.55)" font-size="10.8" class="t2">1</text>
<text transform="translate(140.5,277.4) scale(0.5,0.575)" font-size="15" class="t2">10</text>
<text transform="translate(149.6,273.5) scale(0.5,0.55)" font-size="10.8" class="t2">2</text>
<text transform="translate(157.5,277.4) scale(0.5,0.575)" font-size="15" class="t2">10</text>
<text transform="translate(166.6,273.5) scale(0.5,0.55)" font-size="10.8" class="t2">3</text>
<text transform="translate(174.5,277.4) scale(0.5,0.575)" font-size="15" class="t2">10</text>
<text transform="translate(183.6,273.5) scale(0.5,0.55)" font-size="10.8" class="t2">4</text>
<polyline points="204.0,268.0 205.5,263.4 207.1,257.9 207.9,251.6 210.0,247.0 211.9,241.1 212.7,240.5 214.0,243.0 215.8,253.5 217.0,259.9 219.0,265.0 220.0,268.0" fill="none" stroke="#3a3a3a" stroke-width="1.3" stroke-dasharray="1.8 1.5"/>
<polyline points="200.0,268.0 201.6,267.4 204.8,267.0 209.5,265.4 211.1,263.0 212.3,259.9 213.1,255.9 213.9,250.4 214.7,244.3 215.1,239.5 215.9,238.7 217.9,236.7 218.7,239.5 219.5,244.3 220.2,250.4 221.0,255.9 221.8,260.7 223.0,263.8 224.5,266.2 226.9,267.4 232.0,268.0" fill="none" stroke="#000" stroke-width="1.45" stroke-linejoin="round"/>
<line x1="196.65" y1="213.9" x2="268.45" y2="214.5" stroke="#000" stroke-width="1.5"/>
<line x1="267.7" y1="213.75" x2="267.5" y2="269.8" stroke="#000" stroke-width="1.5"/>
<line x1="197.5" y1="213.15" x2="198.2" y2="269.0" stroke="#000" stroke-width="1.7"/>
<line x1="197.35" y1="269.0" x2="268.25" y2="269.8" stroke="#000" stroke-width="2.6"/>
<line x1="195.8" y1="255.2" x2="198.0" y2="255.2" stroke="#000" stroke-width="0.9"/>
<line x1="195.7" y1="241.4" x2="197.8" y2="241.4" stroke="#000" stroke-width="0.9"/>
<line x1="195.5" y1="227.7" x2="197.7" y2="227.7" stroke="#000" stroke-width="0.9"/>
<line x1="195.3" y1="213.9" x2="197.5" y2="213.9" stroke="#000" stroke-width="0.9"/>
<line x1="203.4" y1="270.4" x2="203.4" y2="271.6" stroke="#222" stroke-width="0.8"/>
<line x1="206.5" y1="270.4" x2="206.5" y2="271.6" stroke="#222" stroke-width="0.8"/>
<line x1="208.6" y1="270.4" x2="208.6" y2="271.6" stroke="#222" stroke-width="0.8"/>
<line x1="210.3" y1="270.4" x2="210.3" y2="271.6" stroke="#222" stroke-width="0.8"/>
<line x1="211.7" y1="270.5" x2="211.7" y2="271.7" stroke="#222" stroke-width="0.8"/>
<line x1="212.8" y1="270.5" x2="212.8" y2="271.7" stroke="#222" stroke-width="0.8"/>
<line x1="213.8" y1="270.5" x2="213.8" y2="271.7" stroke="#222" stroke-width="0.8"/>
<line x1="214.7" y1="270.5" x2="214.7" y2="271.7" stroke="#222" stroke-width="0.8"/>
<line x1="220.7" y1="270.6" x2="220.7" y2="271.8" stroke="#222" stroke-width="0.8"/>
<line x1="223.8" y1="270.6" x2="223.8" y2="271.8" stroke="#222" stroke-width="0.8"/>
<line x1="226.0" y1="270.6" x2="226.0" y2="271.8" stroke="#222" stroke-width="0.8"/>
<line x1="227.6" y1="270.6" x2="227.6" y2="271.8" stroke="#222" stroke-width="0.8"/>
<line x1="229.0" y1="270.7" x2="229.0" y2="271.9" stroke="#222" stroke-width="0.8"/>
<line x1="230.2" y1="270.7" x2="230.2" y2="271.9" stroke="#222" stroke-width="0.8"/>
<line x1="231.2" y1="270.7" x2="231.2" y2="271.9" stroke="#222" stroke-width="0.8"/>
<line x1="232.1" y1="270.7" x2="232.1" y2="271.9" stroke="#222" stroke-width="0.8"/>
<line x1="238.1" y1="270.8" x2="238.1" y2="272.0" stroke="#222" stroke-width="0.8"/>
<line x1="241.1" y1="270.8" x2="241.1" y2="272.0" stroke="#222" stroke-width="0.8"/>
<line x1="243.3" y1="270.8" x2="243.3" y2="272.0" stroke="#222" stroke-width="0.8"/>
<line x1="245.0" y1="270.8" x2="245.0" y2="272.0" stroke="#222" stroke-width="0.8"/>
<line x1="246.3" y1="270.9" x2="246.3" y2="272.1" stroke="#222" stroke-width="0.8"/>
<line x1="247.5" y1="270.9" x2="247.5" y2="272.1" stroke="#222" stroke-width="0.8"/>
<line x1="248.5" y1="270.9" x2="248.5" y2="272.1" stroke="#222" stroke-width="0.8"/>
<line x1="249.4" y1="270.9" x2="249.4" y2="272.1" stroke="#222" stroke-width="0.8"/>
<line x1="255.4" y1="271.0" x2="255.4" y2="272.2" stroke="#222" stroke-width="0.8"/>
<line x1="258.4" y1="271.0" x2="258.4" y2="272.2" stroke="#222" stroke-width="0.8"/>
<line x1="260.6" y1="271.0" x2="260.6" y2="272.2" stroke="#222" stroke-width="0.8"/>
<line x1="262.3" y1="271.0" x2="262.3" y2="272.2" stroke="#222" stroke-width="0.8"/>
<line x1="263.7" y1="271.1" x2="263.7" y2="272.3" stroke="#222" stroke-width="0.8"/>
<line x1="264.8" y1="271.1" x2="264.8" y2="272.3" stroke="#222" stroke-width="0.8"/>
<line x1="265.8" y1="271.1" x2="265.8" y2="272.3" stroke="#222" stroke-width="0.8"/>
<line x1="266.7" y1="271.1" x2="266.7" y2="272.3" stroke="#222" stroke-width="0.8"/>
<text transform="translate(192.6,280.4) scale(0.5,0.575)" font-size="15" class="t2">10</text>
<text transform="translate(201.7,276.5) scale(0.5,0.55)" font-size="10.8" class="t2">0</text>
<text transform="translate(209.7,280.4) scale(0.5,0.575)" font-size="15" class="t2">10</text>
<text transform="translate(218.8,276.5) scale(0.5,0.55)" font-size="10.8" class="t2">1</text>
<text transform="translate(226.8,280.4) scale(0.5,0.575)" font-size="15" class="t2">10</text>
<text transform="translate(235.9,276.5) scale(0.5,0.55)" font-size="10.8" class="t2">2</text>
<text transform="translate(243.8,280.4) scale(0.5,0.575)" font-size="15" class="t2">10</text>
<text transform="translate(252.9,276.5) scale(0.5,0.55)" font-size="10.8" class="t2">3</text>
<text transform="translate(260.9,280.4) scale(0.5,0.575)" font-size="15" class="t2">10</text>
<text transform="translate(270.0,276.5) scale(0.5,0.55)" font-size="10.8" class="t2">4</text>
<polyline points="286.0,267.0 287.0,262.7 288.5,258.3 290.9,251.8 292.4,245.9 294.4,247.9 296.9,252.3 298.4,257.3 299.8,262.2 301.0,267.0" fill="none" stroke="#3a3a3a" stroke-width="1.3" stroke-dasharray="1.8 1.5"/>
<polyline points="284.0,267.5 287.5,266.5 290.9,264.7 293.9,262.2 295.9,257.8 296.9,253.3 297.9,248.4 298.9,246.6 300.5,246.3 302.3,247.2 303.3,249.9 304.8,255.8 306.3,260.3 307.8,263.2 309.7,265.2 313.0,266.8 318.0,267.5" fill="none" stroke="#000" stroke-width="1.45" stroke-linejoin="round"/>
<line x1="281.05" y1="213.9" x2="353.65" y2="213.9" stroke="#000" stroke-width="1.5"/>
<line x1="352.9" y1="213.15" x2="352.9" y2="269.1" stroke="#000" stroke-width="1.5"/>
<line x1="281.9" y1="213.15" x2="282.3" y2="268.5" stroke="#000" stroke-width="1.7"/>
<line x1="281.45" y1="268.5" x2="353.65" y2="269.1" stroke="#000" stroke-width="2.6"/>
<line x1="280.0" y1="254.8" x2="282.2" y2="254.8" stroke="#000" stroke-width="0.9"/>
<line x1="279.9" y1="241.2" x2="282.1" y2="241.2" stroke="#000" stroke-width="0.9"/>
<line x1="279.8" y1="227.6" x2="282.0" y2="227.6" stroke="#000" stroke-width="0.9"/>
<line x1="279.7" y1="213.9" x2="281.9" y2="213.9" stroke="#000" stroke-width="0.9"/>
<line x1="287.6" y1="269.8" x2="287.6" y2="271.0" stroke="#222" stroke-width="0.8"/>
<line x1="290.7" y1="269.9" x2="290.7" y2="271.1" stroke="#222" stroke-width="0.8"/>
<line x1="292.9" y1="269.9" x2="292.9" y2="271.1" stroke="#222" stroke-width="0.8"/>
<line x1="294.6" y1="269.9" x2="294.6" y2="271.1" stroke="#222" stroke-width="0.8"/>
<line x1="296.0" y1="269.9" x2="296.0" y2="271.1" stroke="#222" stroke-width="0.8"/>
<line x1="297.2" y1="269.9" x2="297.2" y2="271.1" stroke="#222" stroke-width="0.8"/>
<line x1="298.2" y1="269.9" x2="298.2" y2="271.1" stroke="#222" stroke-width="0.8"/>
<line x1="299.1" y1="269.9" x2="299.1" y2="271.1" stroke="#222" stroke-width="0.8"/>
<line x1="305.3" y1="270.0" x2="305.3" y2="271.2" stroke="#222" stroke-width="0.8"/>
<line x1="308.4" y1="270.0" x2="308.4" y2="271.2" stroke="#222" stroke-width="0.8"/>
<line x1="310.6" y1="270.0" x2="310.6" y2="271.2" stroke="#222" stroke-width="0.8"/>
<line x1="312.3" y1="270.1" x2="312.3" y2="271.3" stroke="#222" stroke-width="0.8"/>
<line x1="313.7" y1="270.1" x2="313.7" y2="271.3" stroke="#222" stroke-width="0.8"/>
<line x1="314.9" y1="270.1" x2="314.9" y2="271.3" stroke="#222" stroke-width="0.8"/>
<line x1="315.9" y1="270.1" x2="315.9" y2="271.3" stroke="#222" stroke-width="0.8"/>
<line x1="316.8" y1="270.1" x2="316.8" y2="271.3" stroke="#222" stroke-width="0.8"/>
<line x1="322.9" y1="270.1" x2="322.9" y2="271.3" stroke="#222" stroke-width="0.8"/>
<line x1="326.0" y1="270.2" x2="326.0" y2="271.4" stroke="#222" stroke-width="0.8"/>
<line x1="328.2" y1="270.2" x2="328.2" y2="271.4" stroke="#222" stroke-width="0.8"/>
<line x1="329.9" y1="270.2" x2="329.9" y2="271.4" stroke="#222" stroke-width="0.8"/>
<line x1="331.3" y1="270.2" x2="331.3" y2="271.4" stroke="#222" stroke-width="0.8"/>
<line x1="332.5" y1="270.2" x2="332.5" y2="271.4" stroke="#222" stroke-width="0.8"/>
<line x1="333.5" y1="270.2" x2="333.5" y2="271.4" stroke="#222" stroke-width="0.8"/>
<line x1="334.4" y1="270.2" x2="334.4" y2="271.4" stroke="#222" stroke-width="0.8"/>
<line x1="340.6" y1="270.3" x2="340.6" y2="271.5" stroke="#222" stroke-width="0.8"/>
<line x1="343.7" y1="270.3" x2="343.7" y2="271.5" stroke="#222" stroke-width="0.8"/>
<line x1="345.9" y1="270.3" x2="345.9" y2="271.5" stroke="#222" stroke-width="0.8"/>
<line x1="347.6" y1="270.4" x2="347.6" y2="271.6" stroke="#222" stroke-width="0.8"/>
<line x1="349.0" y1="270.4" x2="349.0" y2="271.6" stroke="#222" stroke-width="0.8"/>
<line x1="350.2" y1="270.4" x2="350.2" y2="271.6" stroke="#222" stroke-width="0.8"/>
<line x1="351.2" y1="270.4" x2="351.2" y2="271.6" stroke="#222" stroke-width="0.8"/>
<line x1="352.1" y1="270.4" x2="352.1" y2="271.6" stroke="#222" stroke-width="0.8"/>
<text transform="translate(277.3,279.4) scale(0.5,0.575)" font-size="15" class="t2">10</text>
<text transform="translate(286.4,275.5) scale(0.5,0.55)" font-size="10.8" class="t2">0</text>
<text transform="translate(294.3,279.4) scale(0.5,0.575)" font-size="15" class="t2">10</text>
<text transform="translate(303.4,275.5) scale(0.5,0.55)" font-size="10.8" class="t2">1</text>
<text transform="translate(311.4,279.4) scale(0.5,0.575)" font-size="15" class="t2">10</text>
<text transform="translate(320.5,275.5) scale(0.5,0.55)" font-size="10.8" class="t2">2</text>
<text transform="translate(328.4,279.4) scale(0.5,0.575)" font-size="15" class="t2">10</text>
<text transform="translate(337.5,275.5) scale(0.5,0.55)" font-size="10.8" class="t2">3</text>
<text transform="translate(345.4,279.4) scale(0.5,0.575)" font-size="15" class="t2">10</text>
<text transform="translate(354.5,275.5) scale(0.5,0.55)" font-size="10.8" class="t2">4</text>
<polyline points="376.0,269.0 377.0,262.0 378.2,255.0 378.5,248.5 379.5,243.6 380.0,238.0 381.0,237.0 382.5,237.5 383.5,241.0 384.2,244.5 384.3,252.0 384.5,261.7 385.5,269.0" fill="none" stroke="#3a3a3a" stroke-width="1.3" stroke-dasharray="1.8 1.5"/>
<polyline points="368.0,270.5 377.5,269.5 381.9,268.2 385.8,267.0 387.8,265.0 389.1,258.4 390.4,251.8 391.8,243.9 393.5,239.3 395.7,245.2 397.0,253.1 398.0,261.0 399.0,266.3 401.0,268.5 408.0,270.5" fill="none" stroke="#000" stroke-width="1.45" stroke-linejoin="round"/>
<line x1="366.65" y1="214.3" x2="433.75" y2="214.5" stroke="#555" stroke-width="1.3"/>
<line x1="433.1" y1="213.85" x2="432.2" y2="271.3" stroke="#555" stroke-width="1.3"/>
<line x1="367.5" y1="213.65" x2="367.7" y2="270.9" stroke="#000" stroke-width="1.7"/>
<line x1="366.85" y1="270.9" x2="432.85" y2="271.3" stroke="#000" stroke-width="2.6"/>
<line x1="365.4" y1="256.8" x2="367.6" y2="256.8" stroke="#000" stroke-width="0.9"/>
<line x1="365.4" y1="242.6" x2="367.6" y2="242.6" stroke="#000" stroke-width="0.9"/>
<line x1="365.4" y1="228.4" x2="367.6" y2="228.4" stroke="#000" stroke-width="0.9"/>
<line x1="365.3" y1="214.3" x2="367.5" y2="214.3" stroke="#000" stroke-width="0.9"/>
<line x1="372.6" y1="272.2" x2="372.6" y2="273.4" stroke="#222" stroke-width="0.8"/>
<line x1="375.4" y1="272.2" x2="375.4" y2="273.4" stroke="#222" stroke-width="0.8"/>
<line x1="377.4" y1="272.3" x2="377.4" y2="273.5" stroke="#222" stroke-width="0.8"/>
<line x1="379.0" y1="272.3" x2="379.0" y2="273.5" stroke="#222" stroke-width="0.8"/>
<line x1="380.2" y1="272.3" x2="380.2" y2="273.5" stroke="#222" stroke-width="0.8"/>
<line x1="381.3" y1="272.3" x2="381.3" y2="273.5" stroke="#222" stroke-width="0.8"/>
<line x1="382.3" y1="272.3" x2="382.3" y2="273.5" stroke="#222" stroke-width="0.8"/>
<line x1="383.1" y1="272.3" x2="383.1" y2="273.5" stroke="#222" stroke-width="0.8"/>
<line x1="388.7" y1="272.3" x2="388.7" y2="273.5" stroke="#222" stroke-width="0.8"/>
<line x1="391.5" y1="272.3" x2="391.5" y2="273.5" stroke="#222" stroke-width="0.8"/>
<line x1="393.5" y1="272.4" x2="393.5" y2="273.6" stroke="#222" stroke-width="0.8"/>
<line x1="395.1" y1="272.4" x2="395.1" y2="273.6" stroke="#222" stroke-width="0.8"/>
<line x1="396.4" y1="272.4" x2="396.4" y2="273.6" stroke="#222" stroke-width="0.8"/>
<line x1="397.5" y1="272.4" x2="397.5" y2="273.6" stroke="#222" stroke-width="0.8"/>
<line x1="398.4" y1="272.4" x2="398.4" y2="273.6" stroke="#222" stroke-width="0.8"/>
<line x1="399.2" y1="272.4" x2="399.2" y2="273.6" stroke="#222" stroke-width="0.8"/>
<line x1="404.8" y1="272.4" x2="404.8" y2="273.6" stroke="#222" stroke-width="0.8"/>
<line x1="407.6" y1="272.4" x2="407.6" y2="273.6" stroke="#222" stroke-width="0.8"/>
<line x1="409.7" y1="272.5" x2="409.7" y2="273.7" stroke="#222" stroke-width="0.8"/>
<line x1="411.2" y1="272.5" x2="411.2" y2="273.7" stroke="#222" stroke-width="0.8"/>
<line x1="412.5" y1="272.5" x2="412.5" y2="273.7" stroke="#222" stroke-width="0.8"/>
<line x1="413.6" y1="272.5" x2="413.6" y2="273.7" stroke="#222" stroke-width="0.8"/>
<line x1="414.5" y1="272.5" x2="414.5" y2="273.7" stroke="#222" stroke-width="0.8"/>
<line x1="415.3" y1="272.5" x2="415.3" y2="273.7" stroke="#222" stroke-width="0.8"/>
<line x1="420.9" y1="272.5" x2="420.9" y2="273.7" stroke="#222" stroke-width="0.8"/>
<line x1="423.8" y1="272.5" x2="423.8" y2="273.7" stroke="#222" stroke-width="0.8"/>
<line x1="425.8" y1="272.6" x2="425.8" y2="273.8" stroke="#222" stroke-width="0.8"/>
<line x1="427.3" y1="272.6" x2="427.3" y2="273.8" stroke="#222" stroke-width="0.8"/>
<line x1="428.6" y1="272.6" x2="428.6" y2="273.8" stroke="#222" stroke-width="0.8"/>
<line x1="429.7" y1="272.6" x2="429.7" y2="273.8" stroke="#222" stroke-width="0.8"/>
<line x1="430.6" y1="272.6" x2="430.6" y2="273.8" stroke="#222" stroke-width="0.8"/>
<line x1="431.5" y1="272.6" x2="431.5" y2="273.8" stroke="#222" stroke-width="0.8"/>
<text transform="translate(361.6,282.1) scale(0.5,0.575)" font-size="15" class="t2">10</text>
<text transform="translate(370.7,278.2) scale(0.5,0.55)" font-size="10.8" class="t2">0</text>
<text transform="translate(378.0,282.1) scale(0.5,0.575)" font-size="15" class="t2">10</text>
<text transform="translate(387.1,278.2) scale(0.5,0.55)" font-size="10.8" class="t2">1</text>
<text transform="translate(394.4,282.1) scale(0.5,0.575)" font-size="15" class="t2">10</text>
<text transform="translate(403.5,278.2) scale(0.5,0.55)" font-size="10.8" class="t2">2</text>
<text transform="translate(410.9,282.1) scale(0.5,0.575)" font-size="15" class="t2">10</text>
<text transform="translate(420.0,278.2) scale(0.5,0.55)" font-size="10.8" class="t2">3</text>
<text transform="translate(427.3,282.1) scale(0.5,0.575)" font-size="15" class="t2">10</text>
<text transform="translate(436.4,278.2) scale(0.5,0.55)" font-size="10.8" class="t2">4</text>
<text transform="translate(17.9,25.2) rotate(-90)" font-size="8.4" text-anchor="middle" fill="#000" class="t">200</text>
<text transform="translate(18.3,80.1) rotate(-90)" font-size="8.4" text-anchor="middle" fill="#000" class="t">0</text>
<text transform="translate(11.8,55.2) rotate(-90)" font-size="10.6" text-anchor="middle" fill="#000" class="t">Counts</text>
<text transform="translate(14.6,119.7) rotate(-90)" font-size="8.4" text-anchor="middle" fill="#000" class="t">200</text>
<text transform="translate(14.4,171.3) rotate(-90)" font-size="8.4" text-anchor="middle" fill="#000" class="t">0</text>
<text transform="translate(9.8,146.5) rotate(-90)" font-size="10.6" text-anchor="middle" fill="#000" class="t">Counts</text>
<text transform="translate(21.2,212.9) rotate(-90)" font-size="8.4" text-anchor="middle" fill="#000" class="t">200</text>
<text transform="translate(21.0,265.6) rotate(-90)" font-size="8.4" text-anchor="middle" fill="#000" class="t">0</text>
<text transform="translate(14.7,242.0) rotate(-90)" font-size="10.6" text-anchor="middle" fill="#000" class="t">Counts</text>
<text x="99.0" y="82.1" font-size="6.6" text-anchor="middle" fill="#111" class="t">a</text>
<text x="184.3" y="176.7" font-size="6.6" text-anchor="middle" fill="#111" class="t">a</text>
<text x="349.0" y="176.2" font-size="6.6" text-anchor="middle" fill="#111" class="t">a</text>
</svg>
</body></html>
